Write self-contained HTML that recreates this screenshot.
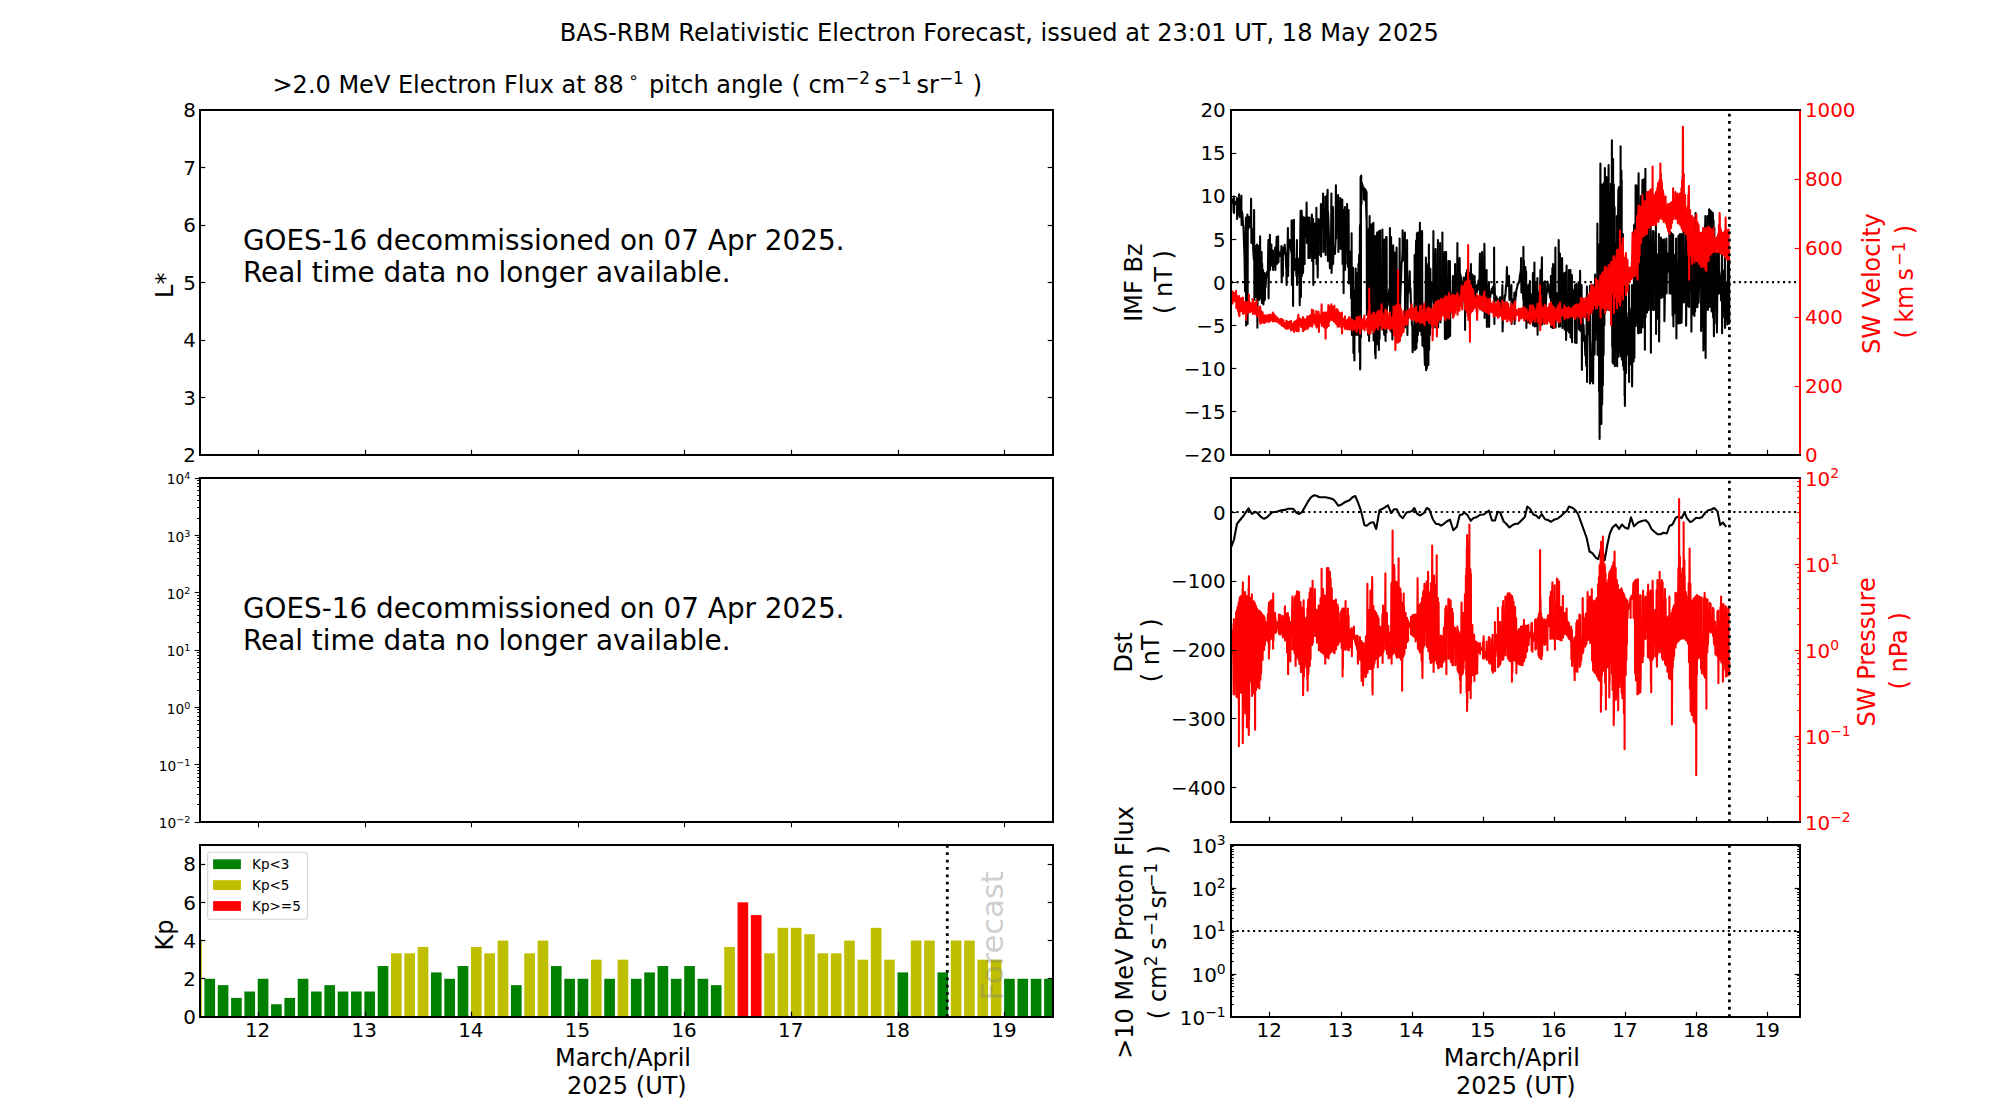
<!DOCTYPE html>
<html lang="en"><head><meta charset="utf-8"><title>BAS-RBM Relativistic Electron Forecast</title>
<style>html,body{margin:0;padding:0;background:#fff;}body{width:2000px;height:1100px;overflow:hidden;}svg{display:block;}text{font-family:'DejaVu Sans','Liberation Sans',sans-serif;}</style>
</head><body>
<svg width="2000" height="1100" viewBox="0 0 2000 1100">
<rect x="0" y="0" width="2000" height="1100" fill="#fff"/>
<text x="999.3" y="40.6" font-size="24.08" text-anchor="middle" fill="#000">BAS-RBM Relativistic Electron Forecast, issued at 23:01 UT, 18 May 2025</text>
<text x="272.5" y="92.9" font-size="24" text-anchor="start" fill="#000">&gt;2.0 MeV Electron Flux at 88</text>
<text x="633.4" y="83.4" font-size="16.8" text-anchor="middle" fill="#000">&#8728;</text>
<text x="649" y="92.9" font-size="24" text-anchor="start" fill="#000">pitch angle</text>
<text x="796.3" y="92.9" font-size="24" text-anchor="middle" fill="#000">(</text>
<text x="808.6" y="92.9" font-size="24" text-anchor="start">cm<tspan font-size="16.8" dy="-8.71" dx="0">&#8722;2</tspan></text>
<text x="874.4" y="92.9" font-size="24" text-anchor="start">s<tspan font-size="16.8" dy="-8.71" dx="0">&#8722;1</tspan></text>
<text x="916.5" y="92.9" font-size="24" text-anchor="start">sr<tspan font-size="16.8" dy="-8.71" dx="0">&#8722;1</tspan></text>
<text x="977.4" y="92.9" font-size="24" text-anchor="middle" fill="#000">)</text>
<line x1="258.5" y1="455" x2="258.5" y2="449.7" stroke="#000" stroke-width="1.2"/>
<line x1="365.5" y1="455" x2="365.5" y2="449.7" stroke="#000" stroke-width="1.2"/>
<line x1="471.5" y1="455" x2="471.5" y2="449.7" stroke="#000" stroke-width="1.2"/>
<line x1="578.5" y1="455" x2="578.5" y2="449.7" stroke="#000" stroke-width="1.2"/>
<line x1="684.5" y1="455" x2="684.5" y2="449.7" stroke="#000" stroke-width="1.2"/>
<line x1="791.5" y1="455" x2="791.5" y2="449.7" stroke="#000" stroke-width="1.2"/>
<line x1="898.5" y1="455" x2="898.5" y2="449.7" stroke="#000" stroke-width="1.2"/>
<line x1="1004.5" y1="455" x2="1004.5" y2="449.7" stroke="#000" stroke-width="1.2"/>
<text x="196" y="462.2" font-size="19.9" text-anchor="end" fill="#000">2</text>
<line x1="200" y1="397.5" x2="205.3" y2="397.5" stroke="#000" stroke-width="1.2"/>
<line x1="1053" y1="397.5" x2="1047.7" y2="397.5" stroke="#000" stroke-width="1.2"/>
<text x="196" y="404.7" font-size="19.9" text-anchor="end" fill="#000">3</text>
<line x1="200" y1="340.5" x2="205.3" y2="340.5" stroke="#000" stroke-width="1.2"/>
<line x1="1053" y1="340.5" x2="1047.7" y2="340.5" stroke="#000" stroke-width="1.2"/>
<text x="196" y="347.2" font-size="19.9" text-anchor="end" fill="#000">4</text>
<line x1="200" y1="282.5" x2="205.3" y2="282.5" stroke="#000" stroke-width="1.2"/>
<line x1="1053" y1="282.5" x2="1047.7" y2="282.5" stroke="#000" stroke-width="1.2"/>
<text x="196" y="289.7" font-size="19.9" text-anchor="end" fill="#000">5</text>
<line x1="200" y1="225.5" x2="205.3" y2="225.5" stroke="#000" stroke-width="1.2"/>
<line x1="1053" y1="225.5" x2="1047.7" y2="225.5" stroke="#000" stroke-width="1.2"/>
<text x="196" y="232.2" font-size="19.9" text-anchor="end" fill="#000">6</text>
<line x1="200" y1="167.5" x2="205.3" y2="167.5" stroke="#000" stroke-width="1.2"/>
<line x1="1053" y1="167.5" x2="1047.7" y2="167.5" stroke="#000" stroke-width="1.2"/>
<text x="196" y="174.7" font-size="19.9" text-anchor="end" fill="#000">7</text>
<text x="196" y="117.2" font-size="19.9" text-anchor="end" fill="#000">8</text>
<rect x="200" y="110" width="853" height="345" fill="none" stroke="#000" stroke-width="2.0"/>
<text transform="translate(172.9,297.9) rotate(-90)" font-size="24" text-anchor="start">L*</text>
<text x="243" y="249.6" font-size="27.83" text-anchor="start" fill="#000">GOES-16 decommissioned on 07 Apr 2025.</text>
<text x="243" y="281.6" font-size="27.83" text-anchor="start" fill="#000">Real time data no longer available.</text>
<line x1="258.5" y1="822" x2="258.5" y2="827.3" stroke="#000" stroke-width="1.1"/>
<line x1="365.5" y1="822" x2="365.5" y2="827.3" stroke="#000" stroke-width="1.1"/>
<line x1="471.5" y1="822" x2="471.5" y2="827.3" stroke="#000" stroke-width="1.1"/>
<line x1="578.5" y1="822" x2="578.5" y2="827.3" stroke="#000" stroke-width="1.1"/>
<line x1="684.5" y1="822" x2="684.5" y2="827.3" stroke="#000" stroke-width="1.1"/>
<line x1="791.5" y1="822" x2="791.5" y2="827.3" stroke="#000" stroke-width="1.1"/>
<line x1="898.5" y1="822" x2="898.5" y2="827.3" stroke="#000" stroke-width="1.1"/>
<line x1="1004.5" y1="822" x2="1004.5" y2="827.3" stroke="#000" stroke-width="1.1"/>
<line x1="200" y1="822.5" x2="194.7" y2="822.5" stroke="#000" stroke-width="1.1"/>
<text x="190.3" y="828.3" font-size="13.7" text-anchor="end" fill="#000">10<tspan font-size="9.59" dy="-4.97">&#8722;2</tspan></text>
<line x1="200" y1="804.5" x2="197.2" y2="804.5" stroke="#000" stroke-width="1"/>
<line x1="200" y1="794.5" x2="197.2" y2="794.5" stroke="#000" stroke-width="1"/>
<line x1="200" y1="787.5" x2="197.2" y2="787.5" stroke="#000" stroke-width="1"/>
<line x1="200" y1="781.5" x2="197.2" y2="781.5" stroke="#000" stroke-width="1"/>
<line x1="200" y1="777.5" x2="197.2" y2="777.5" stroke="#000" stroke-width="1"/>
<line x1="200" y1="773.5" x2="197.2" y2="773.5" stroke="#000" stroke-width="1"/>
<line x1="200" y1="770.5" x2="197.2" y2="770.5" stroke="#000" stroke-width="1"/>
<line x1="200" y1="767.5" x2="197.2" y2="767.5" stroke="#000" stroke-width="1"/>
<line x1="200" y1="764.5" x2="194.7" y2="764.5" stroke="#000" stroke-width="1.1"/>
<text x="190.3" y="770.97" font-size="13.7" text-anchor="end" fill="#000">10<tspan font-size="9.59" dy="-4.97">&#8722;1</tspan></text>
<line x1="200" y1="747.5" x2="197.2" y2="747.5" stroke="#000" stroke-width="1"/>
<line x1="200" y1="737.5" x2="197.2" y2="737.5" stroke="#000" stroke-width="1"/>
<line x1="200" y1="730.5" x2="197.2" y2="730.5" stroke="#000" stroke-width="1"/>
<line x1="200" y1="724.5" x2="197.2" y2="724.5" stroke="#000" stroke-width="1"/>
<line x1="200" y1="720.5" x2="197.2" y2="720.5" stroke="#000" stroke-width="1"/>
<line x1="200" y1="716.5" x2="197.2" y2="716.5" stroke="#000" stroke-width="1"/>
<line x1="200" y1="712.5" x2="197.2" y2="712.5" stroke="#000" stroke-width="1"/>
<line x1="200" y1="709.5" x2="197.2" y2="709.5" stroke="#000" stroke-width="1"/>
<line x1="200" y1="707.5" x2="194.7" y2="707.5" stroke="#000" stroke-width="1.1"/>
<text x="190.3" y="713.63" font-size="13.7" text-anchor="end" fill="#000">10<tspan font-size="9.59" dy="-4.97">0</tspan></text>
<line x1="200" y1="690.5" x2="197.2" y2="690.5" stroke="#000" stroke-width="1"/>
<line x1="200" y1="679.5" x2="197.2" y2="679.5" stroke="#000" stroke-width="1"/>
<line x1="200" y1="672.5" x2="197.2" y2="672.5" stroke="#000" stroke-width="1"/>
<line x1="200" y1="667.5" x2="197.2" y2="667.5" stroke="#000" stroke-width="1"/>
<line x1="200" y1="662.5" x2="197.2" y2="662.5" stroke="#000" stroke-width="1"/>
<line x1="200" y1="658.5" x2="197.2" y2="658.5" stroke="#000" stroke-width="1"/>
<line x1="200" y1="655.5" x2="197.2" y2="655.5" stroke="#000" stroke-width="1"/>
<line x1="200" y1="652.5" x2="197.2" y2="652.5" stroke="#000" stroke-width="1"/>
<line x1="200" y1="650.5" x2="194.7" y2="650.5" stroke="#000" stroke-width="1.1"/>
<text x="190.3" y="656.3" font-size="13.7" text-anchor="end" fill="#000">10<tspan font-size="9.59" dy="-4.97">1</tspan></text>
<line x1="200" y1="632.5" x2="197.2" y2="632.5" stroke="#000" stroke-width="1"/>
<line x1="200" y1="622.5" x2="197.2" y2="622.5" stroke="#000" stroke-width="1"/>
<line x1="200" y1="615.5" x2="197.2" y2="615.5" stroke="#000" stroke-width="1"/>
<line x1="200" y1="609.5" x2="197.2" y2="609.5" stroke="#000" stroke-width="1"/>
<line x1="200" y1="605.5" x2="197.2" y2="605.5" stroke="#000" stroke-width="1"/>
<line x1="200" y1="601.5" x2="197.2" y2="601.5" stroke="#000" stroke-width="1"/>
<line x1="200" y1="598.5" x2="197.2" y2="598.5" stroke="#000" stroke-width="1"/>
<line x1="200" y1="595.5" x2="197.2" y2="595.5" stroke="#000" stroke-width="1"/>
<line x1="200" y1="592.5" x2="194.7" y2="592.5" stroke="#000" stroke-width="1.1"/>
<text x="190.3" y="598.97" font-size="13.7" text-anchor="end" fill="#000">10<tspan font-size="9.59" dy="-4.97">2</tspan></text>
<line x1="200" y1="575.5" x2="197.2" y2="575.5" stroke="#000" stroke-width="1"/>
<line x1="200" y1="565.5" x2="197.2" y2="565.5" stroke="#000" stroke-width="1"/>
<line x1="200" y1="558.5" x2="197.2" y2="558.5" stroke="#000" stroke-width="1"/>
<line x1="200" y1="552.5" x2="197.2" y2="552.5" stroke="#000" stroke-width="1"/>
<line x1="200" y1="548.5" x2="197.2" y2="548.5" stroke="#000" stroke-width="1"/>
<line x1="200" y1="544.5" x2="197.2" y2="544.5" stroke="#000" stroke-width="1"/>
<line x1="200" y1="540.5" x2="197.2" y2="540.5" stroke="#000" stroke-width="1"/>
<line x1="200" y1="537.5" x2="197.2" y2="537.5" stroke="#000" stroke-width="1"/>
<line x1="200" y1="535.5" x2="194.7" y2="535.5" stroke="#000" stroke-width="1.1"/>
<text x="190.3" y="541.63" font-size="13.7" text-anchor="end" fill="#000">10<tspan font-size="9.59" dy="-4.97">3</tspan></text>
<line x1="200" y1="518.5" x2="197.2" y2="518.5" stroke="#000" stroke-width="1"/>
<line x1="200" y1="507.5" x2="197.2" y2="507.5" stroke="#000" stroke-width="1"/>
<line x1="200" y1="500.5" x2="197.2" y2="500.5" stroke="#000" stroke-width="1"/>
<line x1="200" y1="495.5" x2="197.2" y2="495.5" stroke="#000" stroke-width="1"/>
<line x1="200" y1="490.5" x2="197.2" y2="490.5" stroke="#000" stroke-width="1"/>
<line x1="200" y1="486.5" x2="197.2" y2="486.5" stroke="#000" stroke-width="1"/>
<line x1="200" y1="483.5" x2="197.2" y2="483.5" stroke="#000" stroke-width="1"/>
<line x1="200" y1="480.5" x2="197.2" y2="480.5" stroke="#000" stroke-width="1"/>
<line x1="200" y1="478.5" x2="194.7" y2="478.5" stroke="#000" stroke-width="1.1"/>
<text x="190.3" y="484.3" font-size="13.7" text-anchor="end" fill="#000">10<tspan font-size="9.59" dy="-4.97">4</tspan></text>
<rect x="200" y="478" width="853" height="344" fill="none" stroke="#000" stroke-width="2.0"/>
<text x="243" y="617.6" font-size="27.83" text-anchor="start" fill="#000">GOES-16 decommissioned on 07 Apr 2025.</text>
<text x="243" y="649.6" font-size="27.83" text-anchor="start" fill="#000">Real time data no longer available.</text>
<clipPath id="cpk"><rect x="200" y="845" width="853" height="172"/></clipPath>
<g clip-path="url(#cpk)" shape-rendering="auto">
<rect x="191.09" y="940.56" width="10.66" height="76.44" fill="#bfbf00"/>
<rect x="204.42" y="978.78" width="10.66" height="38.22" fill="#008000"/>
<rect x="217.75" y="985.15" width="10.66" height="31.85" fill="#008000"/>
<rect x="231.07" y="997.89" width="10.66" height="19.11" fill="#008000"/>
<rect x="244.4" y="991.52" width="10.66" height="25.48" fill="#008000"/>
<rect x="257.73" y="978.78" width="10.66" height="38.22" fill="#008000"/>
<rect x="271.06" y="1004.26" width="10.66" height="12.74" fill="#008000"/>
<rect x="284.39" y="997.89" width="10.66" height="19.11" fill="#008000"/>
<rect x="297.71" y="978.78" width="10.66" height="38.22" fill="#008000"/>
<rect x="311.04" y="991.52" width="10.66" height="25.48" fill="#008000"/>
<rect x="324.37" y="985.15" width="10.66" height="31.85" fill="#008000"/>
<rect x="337.7" y="991.52" width="10.66" height="25.48" fill="#008000"/>
<rect x="351.03" y="991.52" width="10.66" height="25.48" fill="#008000"/>
<rect x="364.36" y="991.52" width="10.66" height="25.48" fill="#008000"/>
<rect x="377.68" y="966.04" width="10.66" height="50.96" fill="#008000"/>
<rect x="391.01" y="953.3" width="10.66" height="63.7" fill="#bfbf00"/>
<rect x="404.34" y="953.3" width="10.66" height="63.7" fill="#bfbf00"/>
<rect x="417.67" y="946.93" width="10.66" height="70.07" fill="#bfbf00"/>
<rect x="431" y="972.41" width="10.66" height="44.59" fill="#008000"/>
<rect x="444.32" y="978.78" width="10.66" height="38.22" fill="#008000"/>
<rect x="457.65" y="966.04" width="10.66" height="50.96" fill="#008000"/>
<rect x="470.98" y="946.93" width="10.66" height="70.07" fill="#bfbf00"/>
<rect x="484.31" y="953.3" width="10.66" height="63.7" fill="#bfbf00"/>
<rect x="497.64" y="940.56" width="10.66" height="76.44" fill="#bfbf00"/>
<rect x="510.96" y="985.15" width="10.66" height="31.85" fill="#008000"/>
<rect x="524.29" y="953.3" width="10.66" height="63.7" fill="#bfbf00"/>
<rect x="537.62" y="940.56" width="10.66" height="76.44" fill="#bfbf00"/>
<rect x="550.95" y="966.04" width="10.66" height="50.96" fill="#008000"/>
<rect x="564.28" y="978.78" width="10.66" height="38.22" fill="#008000"/>
<rect x="577.61" y="978.78" width="10.66" height="38.22" fill="#008000"/>
<rect x="590.93" y="959.67" width="10.66" height="57.33" fill="#bfbf00"/>
<rect x="604.26" y="978.78" width="10.66" height="38.22" fill="#008000"/>
<rect x="617.59" y="959.67" width="10.66" height="57.33" fill="#bfbf00"/>
<rect x="630.92" y="978.78" width="10.66" height="38.22" fill="#008000"/>
<rect x="644.25" y="972.41" width="10.66" height="44.59" fill="#008000"/>
<rect x="657.57" y="966.04" width="10.66" height="50.96" fill="#008000"/>
<rect x="670.9" y="978.78" width="10.66" height="38.22" fill="#008000"/>
<rect x="684.23" y="966.04" width="10.66" height="50.96" fill="#008000"/>
<rect x="697.56" y="978.78" width="10.66" height="38.22" fill="#008000"/>
<rect x="710.89" y="985.15" width="10.66" height="31.85" fill="#008000"/>
<rect x="724.21" y="946.93" width="10.66" height="70.07" fill="#bfbf00"/>
<rect x="737.54" y="902.33" width="10.66" height="114.67" fill="#ff0000"/>
<rect x="750.87" y="915.07" width="10.66" height="101.93" fill="#ff0000"/>
<rect x="764.2" y="953.3" width="10.66" height="63.7" fill="#bfbf00"/>
<rect x="777.53" y="927.81" width="10.66" height="89.19" fill="#bfbf00"/>
<rect x="790.86" y="927.81" width="10.66" height="89.19" fill="#bfbf00"/>
<rect x="804.18" y="934.19" width="10.66" height="82.81" fill="#bfbf00"/>
<rect x="817.51" y="953.3" width="10.66" height="63.7" fill="#bfbf00"/>
<rect x="830.84" y="953.3" width="10.66" height="63.7" fill="#bfbf00"/>
<rect x="844.17" y="940.56" width="10.66" height="76.44" fill="#bfbf00"/>
<rect x="857.5" y="959.67" width="10.66" height="57.33" fill="#bfbf00"/>
<rect x="870.82" y="927.81" width="10.66" height="89.19" fill="#bfbf00"/>
<rect x="884.15" y="959.67" width="10.66" height="57.33" fill="#bfbf00"/>
<rect x="897.48" y="972.41" width="10.66" height="44.59" fill="#008000"/>
<rect x="910.81" y="940.56" width="10.66" height="76.44" fill="#bfbf00"/>
<rect x="924.14" y="940.56" width="10.66" height="76.44" fill="#bfbf00"/>
<rect x="937.46" y="972.41" width="10.66" height="44.59" fill="#008000"/>
<rect x="950.79" y="940.56" width="10.66" height="76.44" fill="#bfbf00"/>
<rect x="964.12" y="940.56" width="10.66" height="76.44" fill="#bfbf00"/>
<rect x="977.45" y="959.67" width="10.66" height="57.33" fill="#bfbf00"/>
<rect x="990.78" y="959.67" width="10.66" height="57.33" fill="#bfbf00"/>
<rect x="1004.11" y="978.78" width="10.66" height="38.22" fill="#008000"/>
<rect x="1017.43" y="978.78" width="10.66" height="38.22" fill="#008000"/>
<rect x="1030.76" y="978.78" width="10.66" height="38.22" fill="#008000"/>
<rect x="1044.09" y="978.78" width="10.66" height="38.22" fill="#008000"/>
</g>
<line x1="947.3" y1="1017" x2="947.3" y2="845" stroke="#000" stroke-width="2.78" stroke-dasharray="2.78 4.58"/>
<text transform="translate(1002.7,1000.5) rotate(-90)" font-size="30.56" text-anchor="start" fill="#808080" fill-opacity="0.4">Forecast</text>
<line x1="258.5" y1="1017" x2="258.5" y2="1011.7" stroke="#000" stroke-width="1.2"/>
<line x1="365.5" y1="1017" x2="365.5" y2="1011.7" stroke="#000" stroke-width="1.2"/>
<line x1="471.5" y1="1017" x2="471.5" y2="1011.7" stroke="#000" stroke-width="1.2"/>
<line x1="578.5" y1="1017" x2="578.5" y2="1011.7" stroke="#000" stroke-width="1.2"/>
<line x1="684.5" y1="1017" x2="684.5" y2="1011.7" stroke="#000" stroke-width="1.2"/>
<line x1="791.5" y1="1017" x2="791.5" y2="1011.7" stroke="#000" stroke-width="1.2"/>
<line x1="898.5" y1="1017" x2="898.5" y2="1011.7" stroke="#000" stroke-width="1.2"/>
<line x1="1004.5" y1="1017" x2="1004.5" y2="1011.7" stroke="#000" stroke-width="1.2"/>
<text x="196" y="1024.2" font-size="19.9" text-anchor="end" fill="#000">0</text>
<line x1="200" y1="978.5" x2="205.3" y2="978.5" stroke="#000" stroke-width="1.2"/>
<line x1="1053" y1="978.5" x2="1047.7" y2="978.5" stroke="#000" stroke-width="1.2"/>
<text x="196" y="985.98" font-size="19.9" text-anchor="end" fill="#000">2</text>
<line x1="200" y1="940.5" x2="205.3" y2="940.5" stroke="#000" stroke-width="1.2"/>
<line x1="1053" y1="940.5" x2="1047.7" y2="940.5" stroke="#000" stroke-width="1.2"/>
<text x="196" y="947.76" font-size="19.9" text-anchor="end" fill="#000">4</text>
<line x1="200" y1="902.5" x2="205.3" y2="902.5" stroke="#000" stroke-width="1.2"/>
<line x1="1053" y1="902.5" x2="1047.7" y2="902.5" stroke="#000" stroke-width="1.2"/>
<text x="196" y="909.53" font-size="19.9" text-anchor="end" fill="#000">6</text>
<line x1="200" y1="864.5" x2="205.3" y2="864.5" stroke="#000" stroke-width="1.2"/>
<line x1="1053" y1="864.5" x2="1047.7" y2="864.5" stroke="#000" stroke-width="1.2"/>
<text x="196" y="871.31" font-size="19.9" text-anchor="end" fill="#000">8</text>
<text x="257.63" y="1037.1" font-size="19.9" text-anchor="middle" fill="#000">12</text>
<text x="364.26" y="1037.1" font-size="19.9" text-anchor="middle" fill="#000">13</text>
<text x="470.88" y="1037.1" font-size="19.9" text-anchor="middle" fill="#000">14</text>
<text x="577.51" y="1037.1" font-size="19.9" text-anchor="middle" fill="#000">15</text>
<text x="684.13" y="1037.1" font-size="19.9" text-anchor="middle" fill="#000">16</text>
<text x="790.76" y="1037.1" font-size="19.9" text-anchor="middle" fill="#000">17</text>
<text x="897.38" y="1037.1" font-size="19.9" text-anchor="middle" fill="#000">18</text>
<text x="1004.01" y="1037.1" font-size="19.9" text-anchor="middle" fill="#000">19</text>
<rect x="200" y="845" width="853" height="172" fill="none" stroke="#000" stroke-width="2.0"/>
<rect x="207.6" y="852.3" width="99.8" height="67" rx="2.8" ry="2.8" fill="#fff" fill-opacity="0.8" stroke="#ccc" stroke-opacity="0.8" stroke-width="1.1"/>
<rect x="213.1" y="859.3" width="27.8" height="9.8" fill="#008000"/>
<text x="252" y="869" font-size="13.55" text-anchor="start" fill="#000">Kp&lt;3</text>
<rect x="213.1" y="880.2" width="27.8" height="9.8" fill="#bfbf00"/>
<text x="252" y="889.9" font-size="13.55" text-anchor="start" fill="#000">Kp&lt;5</text>
<rect x="213.1" y="901.1" width="27.8" height="9.8" fill="#ff0000"/>
<text x="252" y="910.8" font-size="13.55" text-anchor="start" fill="#000">Kp&gt;=5</text>
<text transform="translate(172.9,950.4) rotate(-90)" font-size="24" text-anchor="start">Kp</text>
<text x="623" y="1066" font-size="24" text-anchor="middle" fill="#000">March/April</text>
<text x="626.9" y="1093.5" font-size="24" text-anchor="middle" fill="#000">2025 (UT)</text>
<clipPath id="cr1"><rect x="1231" y="110" width="569" height="345"/></clipPath>
<line x1="1231" y1="282.1" x2="1800" y2="282.1" stroke="#000" stroke-width="2.08" stroke-dasharray="2.08 3.44"/>
<g clip-path="url(#cr1)">
<path d="M1231.3 198.9L1231.4 212.2L1231.7 201.1L1232.2 199.4L1232.8 201.9L1233.3 201.3L1233.7 202.9L1233.9 196.5L1234.1 213.0L1234.2 202.3L1234.7 204.4L1235.2 201.8L1235.8 204.0L1236.3 202.2L1236.8 205.3L1236.9 198.0L1237.1 219.0L1237.3 206.2L1237.8 211.3L1238.3 209.4L1238.7 213.9L1239.1 194.2L1239.3 215.0L1239.7 217.0L1240.3 213.7L1240.8 212.9L1241.4 195.8L1241.4 208.7L1241.6 225.0L1241.8 211.4L1242.4 214.5L1243.0 224.6L1243.4 226.0L1244.0 243.4L1244.5 256.6L1245.1 291.4L1245.5 286.7L1245.9 217.5L1246.1 292.3L1246.1 325.5L1246.7 245.6L1247.3 235.1L1247.4 214.5L1247.6 324.0L1247.8 216.3L1248.4 228.7L1248.9 217.0L1249.3 226.2L1249.9 222.2L1250.3 226.9L1250.8 224.9L1251.1 198.8L1251.4 243.0L1251.4 226.8L1251.9 229.6L1252.4 237.8L1252.8 236.2L1253.3 251.1L1253.9 260.0L1254.1 210.0L1254.3 268.6L1254.4 300.0L1254.7 267.4L1255.3 276.5L1255.6 246.0L1255.7 274.7L1255.9 297.0L1256.2 274.7L1256.7 267.6L1257.1 244.5L1257.2 280.7L1257.4 327.8L1257.7 258.7L1258.4 259.1L1258.6 246.0L1258.8 247.4L1258.9 300.0L1259.4 267.0L1259.9 271.4L1260.1 236.2L1260.4 298.5L1260.5 281.0L1261.0 269.2L1261.5 265.0L1261.6 252.0L1261.9 303.0L1262.1 263.2L1262.5 278.4L1263.0 288.8L1263.1 270.0L1263.4 304.5L1263.6 301.9L1264.2 298.5L1264.5 295.6L1264.6 273.0L1264.9 300.0L1265.0 288.2L1265.5 287.4L1266.1 278.0L1266.6 274.4L1267.2 271.7L1267.8 274.8L1268.4 240.0L1268.4 270.1L1268.6 298.5L1268.8 273.3L1269.2 265.8L1269.7 266.8L1269.9 234.8L1270.1 270.0L1270.2 254.9L1270.7 259.2L1271.2 253.3L1271.4 244.5L1271.5 255.9L1271.6 265.5L1271.9 253.4L1272.5 255.4L1272.9 250.5L1273.1 256.7L1273.1 270.0L1273.5 258.4L1273.9 258.2L1274.5 261.3L1275.1 261.7L1275.1 247.5L1275.4 270.0L1275.5 263.1L1276.2 257.2L1276.6 237.0L1276.7 256.4L1276.9 264.0L1277.2 253.8L1277.6 256.7L1278.1 254.1L1278.1 236.2L1278.4 262.5L1278.7 255.8L1279.1 252.0L1279.6 254.6L1280.1 253.4L1280.5 256.1L1281.1 256.3L1281.4 246.0L1281.5 263.6L1281.7 282.0L1282.0 255.4L1282.5 259.0L1282.6 247.5L1282.9 276.0L1282.9 253.6L1283.3 254.3L1283.7 249.8L1284.2 249.1L1284.7 244.7L1285.2 252.1L1285.7 256.1L1286.0 264.0L1286.4 269.9L1286.6 285.0L1286.9 270.2L1287.4 257.3L1287.9 228.0L1288.0 255.5L1288.1 276.0L1288.5 247.6L1288.8 248.9L1289.4 239.8L1290.0 246.8L1290.5 244.5L1291.0 250.1L1291.5 252.8L1291.6 220.5L1291.9 285.0L1292.0 259.8L1292.6 257.8L1292.8 220.5L1293.1 306.0L1293.1 277.0L1293.7 259.9L1293.9 219.8L1294.1 270.0L1294.2 260.8L1294.7 259.1L1295.3 264.9L1295.8 262.1L1296.4 276.0L1296.9 240.0L1297.0 275.9L1297.1 285.0L1297.4 274.7L1297.8 265.9L1298.4 263.6L1299.0 258.6L1299.5 261.6L1299.7 305.2L1300.1 245.4L1300.6 210.8L1300.8 242.3L1300.9 297.0L1301.3 225.4L1301.7 210.8L1301.7 230.1L1301.9 276.0L1302.4 216.2L1302.9 217.5L1302.9 220.7L1303.1 273.0L1303.5 220.8L1304.1 227.8L1304.4 217.5L1304.6 264.0L1304.6 225.9L1305.0 233.5L1305.4 232.2L1305.8 236.4L1306.4 222.0L1306.6 202.5L1306.9 243.0L1306.9 219.9L1307.5 221.7L1308.0 222.6L1308.1 217.5L1308.3 219.7L1308.4 258.0L1308.8 223.7L1309.3 223.3L1309.6 217.5L1309.7 229.9L1309.9 258.0L1310.1 227.6L1310.6 232.1L1310.9 224.9L1311.3 230.3L1311.9 221.4L1311.9 214.5L1312.1 261.0L1312.3 225.4L1312.9 219.3L1313.1 219.0L1313.3 285.0L1313.5 225.1L1314.1 231.0L1314.7 246.1L1314.9 223.5L1315.1 258.0L1315.2 250.4L1315.8 257.4L1316.3 246.3L1316.4 207.8L1316.6 264.0L1317.0 244.8L1317.3 240.6L1317.7 277.5L1317.9 246.4L1318.5 238.4L1318.6 219.0L1318.9 255.0L1318.9 244.2L1319.3 237.5L1319.8 234.2L1320.2 225.3L1320.8 219.6L1320.9 204.0L1321.1 256.5L1321.2 208.3L1321.7 211.8L1322.1 209.5L1322.7 225.6L1323.1 193.5L1323.3 227.0L1323.4 252.0L1323.9 240.9L1324.5 246.0L1325.1 241.3L1325.4 196.5L1325.6 255.0L1325.7 230.5L1326.2 228.6L1326.5 215.6L1327.0 211.5L1327.3 195.5L1327.6 189.8L1327.9 261.0L1327.9 211.0L1328.4 219.5L1328.8 232.6L1329.4 246.5L1329.9 268.3L1330.5 255.2L1330.9 258.5L1331.4 193.5L1331.6 243.3L1331.6 273.0L1332.0 254.2L1332.4 245.9L1332.8 253.7L1332.9 207.0L1333.1 264.0L1333.5 247.5L1334.0 250.1L1334.6 249.2L1335.0 253.9L1335.5 241.5L1335.9 185.2L1336.1 238.8L1336.5 227.3L1337.1 226.0L1337.5 216.8L1337.9 215.8L1338.1 195.0L1338.3 205.1L1338.4 252.0L1338.7 205.4L1339.3 204.5L1339.9 215.5L1340.4 198.0L1340.4 213.6L1340.6 249.0L1340.8 223.9L1341.4 218.9L1341.9 218.7L1342.3 199.5L1342.6 264.0L1342.6 213.2L1343.1 222.4L1343.4 210.0L1343.5 214.3L1343.6 293.2L1343.9 215.0L1344.5 216.4L1344.9 207.0L1344.9 227.3L1345.1 270.0L1345.3 226.1L1345.9 235.3L1346.5 235.5L1346.8 248.4L1347.1 204.0L1347.4 264.0L1347.4 251.9L1348.0 266.9L1348.4 259.0L1348.6 210.0L1348.9 283.5L1349.0 262.5L1349.5 251.3L1350.0 261.2L1350.6 268.6L1351.1 298.3L1351.5 298.7L1351.6 233.2L1351.9 335.0L1351.9 326.4L1352.4 308.8L1352.9 308.0L1353.1 267.8L1353.4 353.0L1353.5 289.9L1354.0 290.4L1354.4 360.5L1354.6 292.7L1354.9 304.3L1355.5 298.2L1355.7 268.5L1355.9 335.0L1356.1 308.5L1356.5 314.5L1357.0 323.8L1357.5 324.9L1357.6 273.0L1357.9 335.0L1358.1 319.0L1358.4 264.0L1358.6 335.0L1358.7 306.3L1359.1 255.0L1359.2 314.3L1359.4 352.2L1359.6 294.9L1359.9 230.0L1360.0 225.0L1360.1 280.7L1360.1 369.5L1360.3 365.2L1360.5 231.3L1360.6 177.0L1360.9 337.5L1361.0 201.5L1361.2 175.5L1361.5 204.0L1361.5 182.3L1362.1 184.2L1362.6 185.4L1363.1 189.8L1363.6 187.5L1363.7 191.1L1363.9 199.5L1364.2 192.4L1364.6 191.2L1365.0 193.4L1365.1 189.0L1365.4 201.0L1365.5 192.8L1365.9 190.2L1365.9 196.2L1366.1 206.0L1366.5 218.9L1366.6 192.0L1366.9 315.0L1366.9 253.8L1367.3 258.4L1367.8 280.8L1367.8 230.3L1368.1 335.0L1368.1 281.5L1368.8 300.9L1368.9 228.6L1369.1 341.0L1369.3 295.0L1369.6 216.0L1369.8 304.1L1369.9 332.6L1370.1 224.6L1370.2 297.7L1370.3 327.5L1370.8 314.7L1371.1 225.0L1371.3 306.7L1371.4 327.5L1371.8 312.8L1371.9 224.2L1372.1 327.5L1372.3 301.0L1372.6 308.9L1373.2 290.4L1373.4 222.8L1373.6 340.5L1373.7 309.8L1374.2 302.5L1374.8 321.4L1374.9 237.0L1375.1 354.0L1375.3 236.1L1375.4 322.6L1375.6 358.2L1375.9 324.7L1376.4 320.0L1376.8 324.6L1377.1 232.5L1377.3 323.2L1377.4 344.2L1377.8 338.1L1378.3 307.7L1378.6 231.5L1378.7 318.5L1378.9 350.0L1379.1 295.6L1379.4 231.0L1379.6 293.8L1379.6 338.8L1379.9 280.0L1380.1 230.6L1380.3 284.7L1380.4 327.5L1381.0 279.4L1381.4 293.6L1381.8 284.6L1382.3 306.3L1382.4 229.5L1382.6 329.7L1382.8 296.8L1383.2 313.5L1383.6 315.4L1383.9 240.0L1384.1 334.1L1384.2 239.6L1384.3 326.6L1384.4 335.0L1384.8 317.6L1385.2 326.6L1385.6 341.0L1385.6 321.2L1386.0 321.2L1386.1 237.0L1386.4 332.6L1386.4 306.9L1386.6 237.0L1386.8 327.5L1386.9 309.1L1387.2 295.4L1387.7 305.8L1388.2 294.6L1388.6 296.2L1389.2 289.4L1389.7 302.4L1389.9 228.0L1390.1 292.0L1390.1 330.0L1390.5 301.8L1390.9 301.5L1391.1 237.0L1391.3 332.0L1391.4 311.0L1392.0 301.2L1392.4 339.5L1392.5 318.9L1393.1 287.1L1393.2 245.4L1393.4 327.5L1393.7 279.3L1394.3 254.1L1394.4 255.0L1394.6 327.5L1394.7 262.6L1395.1 258.9L1395.1 252.5L1395.4 327.5L1395.6 267.9L1396.0 270.5L1396.5 281.6L1396.6 247.5L1396.9 327.5L1396.9 281.5L1397.4 293.0L1398.0 297.6L1398.3 308.2L1398.8 311.4L1399.3 317.8L1399.6 238.5L1399.9 296.2L1399.9 327.5L1400.2 299.4L1400.7 286.7L1401.1 278.7L1401.6 262.8L1402.1 261.4L1402.6 249.2L1402.6 230.2L1403.0 254.4L1403.5 249.5L1404.1 260.5L1404.6 258.7L1404.9 232.5L1405.1 327.5L1405.2 276.1L1405.7 271.3L1406.3 294.7L1406.9 292.6L1407.1 240.0L1407.3 295.8L1407.4 335.0L1407.9 280.1L1408.4 292.9L1408.8 281.3L1409.3 281.8L1409.7 271.4L1410.1 287.9L1410.5 288.7L1410.9 302.1L1411.5 308.8L1411.9 324.2L1412.4 326.5L1412.6 352.2L1413.0 345.2L1413.6 336.9L1414.0 337.4L1414.6 315.1L1414.6 255.0L1414.9 350.0L1415.2 308.5L1415.7 273.8L1416.1 240.5L1416.3 282.4L1416.4 348.5L1416.9 233.2L1416.9 273.9L1417.1 341.8L1417.4 283.8L1417.6 232.9L1417.8 273.2L1417.9 335.0L1418.3 283.5L1418.4 232.6L1418.6 327.5L1418.8 280.2L1419.2 291.1L1419.6 287.5L1419.9 222.8L1419.9 289.6L1420.1 331.2L1420.5 292.1L1421.0 302.5L1421.4 231.3L1421.5 294.1L1421.6 335.0L1422.1 311.1L1422.1 231.0L1422.4 345.5L1422.5 302.4L1423.0 326.8L1423.4 320.1L1423.8 347.2L1424.3 345.2L1424.9 364.9L1425.5 344.0L1425.9 257.5L1425.9 345.5L1426.1 370.2L1426.5 312.7L1426.6 264.0L1426.9 368.5L1427.1 305.8L1427.5 286.4L1428.0 309.3L1428.1 266.0L1428.3 312.8L1428.4 365.0L1428.9 244.5L1428.9 335.0L1429.1 350.0L1429.3 327.2L1429.6 268.0L1429.8 327.9L1429.9 335.0L1430.3 308.6L1430.4 269.0L1430.6 327.5L1430.9 305.8L1431.5 298.0L1431.9 295.3L1432.4 282.9L1432.8 295.3L1433.2 287.8L1433.4 231.0L1433.6 327.5L1433.7 299.1L1434.1 302.9L1434.7 313.8L1435.2 305.6L1435.6 249.0L1435.8 316.3L1435.9 327.5L1436.2 301.6L1436.7 312.2L1437.1 302.8L1437.5 311.1L1437.9 240.0L1437.9 297.4L1438.1 327.5L1438.3 303.1L1438.7 294.4L1439.1 302.8L1439.5 294.0L1440.0 296.8L1440.1 243.0L1440.4 322.5L1440.4 291.8L1440.8 297.5L1441.2 288.3L1441.6 290.9L1442.3 279.4L1442.4 232.5L1442.6 315.0L1442.9 283.6L1443.4 274.0L1443.8 277.9L1444.4 268.4L1444.6 252.0L1444.9 339.0L1444.9 271.5L1445.5 253.8L1446.1 252.0L1446.2 277.1L1446.4 339.0L1446.8 293.9L1447.2 317.5L1447.6 332.7L1448.0 337.6L1448.4 261.0L1448.5 326.7L1448.6 337.5L1449.0 324.0L1449.4 312.5L1449.8 320.2L1449.9 261.0L1450.1 336.0L1450.4 303.9L1451.0 305.9L1451.6 293.4L1452.1 299.5L1452.5 292.2L1452.9 276.0L1453.0 300.9L1453.1 315.0L1453.4 295.0L1453.8 301.7L1454.2 298.4L1454.6 304.1L1455.1 264.0L1455.2 301.1L1455.4 310.5L1455.8 305.0L1456.2 299.8L1456.7 303.5L1457.1 293.5L1457.4 243.0L1457.5 293.6L1457.6 300.0L1458.0 285.4L1458.4 285.2L1458.8 280.0L1459.3 277.2L1459.6 258.0L1459.8 271.4L1459.9 298.5L1460.3 274.3L1460.9 277.0L1461.5 283.1L1462.1 285.5L1462.7 290.6L1463.4 292.5L1463.7 277.5L1463.8 297.0L1463.9 300.0L1464.2 294.6L1464.8 310.3L1464.9 277.5L1465.1 330.0L1465.2 300.6L1465.7 290.9L1466.1 273.0L1466.1 284.3L1466.3 300.0L1466.6 284.8L1467.0 278.4L1467.1 270.0L1467.4 300.0L1467.6 279.3L1468.1 273.0L1468.6 272.6L1469.3 273.0L1469.7 279.1L1470.2 278.4L1470.6 281.1L1470.9 264.0L1471.1 300.0L1471.2 277.9L1471.5 286.6L1472.0 285.8L1472.4 274.5L1472.5 289.9L1472.6 300.0L1472.9 286.4L1473.6 289.5L1474.0 286.0L1474.6 276.0L1474.7 288.9L1474.9 300.0L1475.3 287.8L1475.9 289.9L1476.3 285.9L1476.9 292.1L1477.5 284.2L1478.0 289.8L1478.4 280.6L1478.9 283.7L1479.5 278.3L1479.9 253.5L1480.0 283.6L1480.1 307.5L1480.4 276.5L1481.0 276.8L1481.5 270.1L1482.0 274.3L1482.1 252.0L1482.4 310.5L1482.6 267.1L1483.2 275.3L1483.8 267.8L1484.2 269.3L1484.4 243.8L1484.6 259.9L1484.6 318.0L1485.0 279.7L1485.6 279.1L1486.0 284.7L1486.6 283.1L1486.6 270.0L1486.9 327.0L1487.2 291.0L1487.9 293.5L1488.4 301.3L1488.9 282.0L1489.0 297.3L1489.1 327.0L1489.5 298.5L1489.9 294.3L1490.3 297.0L1490.8 291.2L1491.3 292.8L1491.7 288.9L1492.2 291.1L1492.6 287.4L1493.1 293.4L1493.5 289.3L1494.1 282.5L1494.1 247.5L1494.4 324.0L1494.6 283.6L1495.0 297.2L1495.6 295.8L1496.2 300.3L1496.6 297.3L1497.3 301.4L1497.8 299.2L1498.4 301.8L1499.0 299.6L1499.6 304.5L1500.1 297.4L1500.5 307.6L1501.1 304.4L1501.4 310.2L1501.9 308.2L1502.4 285.0L1502.5 314.5L1502.6 331.5L1503.1 309.7L1503.5 311.4L1503.9 302.2L1504.3 305.0L1504.8 295.6L1505.4 295.8L1505.9 287.6L1506.5 282.7L1506.9 267.0L1507.0 270.4L1507.5 286.0L1508.0 280.8L1508.6 283.2L1509.1 276.0L1509.1 281.1L1509.4 300.0L1509.6 286.0L1510.1 286.3L1510.6 295.4L1511.2 293.4L1511.4 285.0L1511.6 324.0L1511.7 303.1L1512.2 299.0L1512.9 303.7L1513.4 303.5L1513.9 307.1L1514.4 292.5L1514.6 306.4L1514.6 324.0L1515.0 303.5L1515.5 297.0L1515.9 296.3L1516.4 289.6L1517.0 288.4L1517.6 284.3L1518.2 284.1L1518.7 282.1L1519.3 281.5L1519.9 275.3L1520.3 273.7L1520.9 270.1L1521.1 258.0L1521.4 292.5L1521.4 274.1L1521.9 278.4L1522.5 286.3L1522.8 288.8L1523.3 300.0L1523.4 246.8L1523.7 314.7L1523.7 299.6L1523.9 260.9L1524.1 311.7L1524.1 319.0L1524.6 312.5L1525.0 318.7L1525.4 267.0L1525.4 305.1L1525.6 320.1L1525.8 311.5L1526.1 271.5L1526.3 301.8L1526.4 328.0L1526.9 300.0L1527.5 289.9L1527.9 290.4L1528.4 285.0L1528.4 284.7L1528.6 322.4L1529.0 287.3L1529.5 289.5L1529.9 281.0L1529.9 293.3L1530.1 323.5L1530.5 293.7L1531.1 301.5L1531.6 305.0L1532.1 309.9L1532.7 305.9L1532.9 273.0L1533.1 325.5L1533.2 308.4L1533.8 297.9L1534.3 298.8L1534.4 262.5L1534.6 326.5L1534.9 297.5L1535.4 306.3L1535.8 302.7L1535.9 282.0L1536.1 326.1L1536.3 307.4L1536.7 303.7L1537.2 309.0L1537.4 278.0L1537.6 334.8L1537.8 308.5L1538.3 306.0L1538.8 298.9L1539.2 299.3L1539.6 291.6L1540.0 295.1L1540.4 270.0L1540.5 287.3L1540.6 325.0L1541.0 290.8L1541.4 281.4L1541.9 257.2L1542.0 270.3L1542.1 324.5L1542.5 286.9L1543.0 301.0L1543.5 306.7L1544.0 318.9L1544.1 282.0L1544.4 323.8L1544.6 311.7L1544.9 281.3L1544.9 309.6L1545.1 323.5L1545.4 301.5L1545.9 304.6L1546.3 295.4L1546.9 291.9L1547.5 281.6L1548.0 286.5L1548.6 284.4L1549.1 291.3L1549.7 294.0L1550.2 297.9L1550.9 290.7L1550.9 276.0L1551.1 327.1L1551.2 297.5L1551.8 286.4L1552.1 292.1L1552.4 268.0L1552.6 281.1L1552.6 328.0L1553.1 264.0L1553.3 287.3L1553.4 327.9L1553.6 273.7L1554.1 285.8L1554.6 279.3L1555.1 286.1L1555.4 247.5L1555.5 282.0L1555.6 327.4L1555.9 292.8L1556.5 293.0L1557.0 304.4L1557.4 305.0L1558.0 316.1L1558.6 298.2L1558.7 240.0L1558.9 326.7L1559.1 298.2L1559.7 286.7L1559.9 253.5L1560.1 326.5L1560.3 283.1L1560.7 272.0L1561.2 274.3L1561.8 262.1L1562.1 258.0L1562.3 274.3L1562.4 328.0L1562.9 278.7L1563.5 287.7L1564.0 291.7L1564.4 273.0L1564.5 298.8L1564.6 329.5L1564.9 296.1L1565.4 302.7L1565.9 272.0L1566.0 300.2L1566.1 340.0L1566.4 306.0L1566.6 265.5L1566.9 331.0L1566.9 295.0L1567.4 308.3L1567.8 303.4L1568.3 309.7L1568.8 306.6L1568.9 270.0L1569.1 332.5L1569.4 310.9L1569.9 307.2L1570.4 270.0L1570.5 315.3L1570.6 337.4L1571.1 308.0L1571.6 319.4L1571.9 275.0L1572.0 310.5L1572.1 342.2L1572.4 312.8L1573.0 303.3L1573.6 300.8L1574.1 289.9L1574.5 293.6L1574.9 285.0L1575.1 287.4L1575.1 342.8L1575.4 298.9L1575.9 295.8L1576.4 303.7L1576.4 283.8L1576.6 343.0L1576.7 297.7L1577.3 309.1L1577.9 301.7L1578.4 308.8L1578.6 282.0L1578.9 329.5L1578.9 301.3L1579.4 282.8L1579.5 304.9L1579.6 325.0L1580.0 299.1L1580.1 270.8L1580.3 302.4L1580.4 331.0L1580.7 305.0L1581.2 309.9L1581.6 285.0L1581.7 319.9L1581.9 370.0L1582.1 320.8L1582.6 313.3L1583.0 328.8L1583.6 325.1L1584.1 340.9L1584.6 335.9L1585.3 355.3L1585.7 353.7L1586.3 365.9L1586.9 286.5L1586.9 353.5L1587.1 382.0L1587.4 347.9L1588.0 321.3L1588.5 323.3L1588.9 315.2L1589.5 333.6L1589.9 285.9L1590.1 383.5L1590.2 341.2L1590.6 365.2L1590.9 359.9L1591.3 381.1L1591.8 355.7L1592.1 364.7L1592.5 351.8L1592.9 285.3L1593.0 352.9L1593.1 383.5L1593.6 321.4L1594.2 319.7L1594.4 285.0L1594.5 311.7L1594.6 354.5L1594.9 315.9L1595.1 274.5L1595.4 340.0L1595.4 307.4L1595.8 319.5L1596.3 315.9L1596.7 329.9L1597.2 320.8L1597.4 223.5L1597.6 355.0L1597.7 333.7L1598.1 333.4L1598.7 346.8L1598.9 255.0L1599.1 391.3L1599.3 244.4L1599.3 333.5L1599.6 439.0L1600.0 331.4L1600.4 163.5L1600.6 270.5L1600.6 410.2L1601.1 294.4L1601.1 202.1L1601.4 424.0L1601.6 268.5L1601.9 184.5L1602.1 404.5L1602.2 399.8L1602.6 242.3L1602.6 184.5L1602.9 385.0L1603.2 265.8L1603.4 184.5L1603.6 191.9L1603.6 355.0L1604.1 182.6L1604.2 310.2L1604.4 325.0L1604.6 228.7L1604.9 168.0L1605.1 310.0L1605.1 273.3L1605.7 201.3L1606.2 239.5L1606.4 177.0L1606.6 201.5L1606.6 310.0L1607.3 287.1L1607.7 232.6L1608.2 225.5L1608.6 165.0L1608.8 225.3L1608.9 310.0L1609.3 243.7L1609.7 247.5L1610.1 192.0L1610.2 234.5L1610.4 310.0L1610.8 248.6L1610.9 183.8L1611.1 310.0L1611.2 213.0L1611.7 267.0L1611.9 140.2L1612.2 346.7L1612.2 299.3L1612.4 161.4L1612.6 362.5L1612.7 214.8L1613.1 159.0L1613.2 292.8L1613.4 363.8L1613.8 184.6L1614.3 293.3L1614.6 207.0L1614.7 293.0L1614.9 366.2L1615.3 243.0L1615.8 295.0L1616.4 296.3L1616.8 252.8L1616.9 216.0L1617.1 366.2L1617.4 329.1L1617.9 225.7L1618.4 189.0L1618.5 321.8L1618.6 356.8L1618.9 259.3L1619.1 187.0L1619.4 352.0L1619.5 218.5L1620.1 283.3L1620.5 270.2L1620.6 146.2L1620.9 356.0L1621.1 178.4L1621.4 170.4L1621.6 358.0L1621.7 180.0L1621.7 313.1L1621.9 359.6L1622.2 300.8L1622.6 283.7L1622.9 234.0L1623.0 306.1L1623.1 366.0L1623.6 326.4L1623.6 259.5L1623.9 370.0L1624.2 324.5L1624.4 285.0L1624.6 395.7L1624.7 285.0L1624.8 344.4L1624.9 406.0L1625.4 337.4L1625.8 295.1L1625.9 285.0L1626.1 373.0L1626.4 342.4L1626.9 317.6L1627.4 326.4L1627.8 354.4L1628.4 313.0L1628.8 341.0L1628.9 285.0L1629.1 382.0L1629.2 330.8L1629.6 308.9L1630.1 364.6L1630.6 327.1L1631.1 315.4L1631.5 350.0L1631.9 285.0L1631.9 314.5L1632.1 386.5L1632.5 333.3L1633.0 324.8L1633.4 285.0L1633.4 300.3L1633.6 361.4L1633.9 280.6L1634.1 225.0L1634.4 358.0L1634.5 302.6L1635.0 223.9L1635.5 301.0L1635.6 185.2L1635.9 326.0L1636.1 213.3L1636.4 185.6L1636.5 272.1L1636.6 310.0L1637.0 206.5L1637.1 186.0L1637.4 321.6L1637.4 246.4L1637.9 190.5L1637.9 290.0L1638.1 333.2L1638.3 241.2L1638.6 173.2L1638.9 333.1L1638.9 292.6L1639.4 248.0L1639.8 283.7L1640.1 204.0L1640.3 318.4L1640.4 332.7L1640.7 222.8L1640.9 196.0L1641.1 332.5L1641.2 259.9L1641.7 262.9L1642.2 226.8L1642.4 180.0L1642.6 327.5L1642.7 289.2L1643.2 267.0L1643.7 235.4L1643.9 179.2L1644.1 251.8L1644.1 322.5L1644.6 182.4L1644.7 289.4L1644.9 349.8L1645.1 234.7L1645.4 168.8L1645.6 317.5L1645.7 272.7L1646.1 290.0L1646.5 206.5L1646.9 192.0L1646.9 253.5L1647.1 312.5L1647.4 288.8L1647.6 208.5L1647.9 310.0L1647.9 252.7L1648.4 225.0L1648.4 284.6L1648.6 310.0L1649.1 268.1L1649.5 286.4L1650.0 241.2L1650.6 291.0L1650.6 222.0L1650.9 352.8L1651.0 274.1L1651.5 261.7L1652.1 285.9L1652.5 251.7L1652.9 231.0L1652.9 287.1L1653.1 310.0L1653.3 282.2L1653.6 231.4L1653.9 310.0L1653.9 243.6L1654.5 267.9L1655.0 286.0L1655.6 271.1L1655.9 225.0L1656.1 334.0L1656.1 312.8L1656.7 277.6L1657.2 280.2L1657.6 254.6L1658.2 318.9L1658.8 259.3L1658.9 234.0L1659.1 341.5L1659.4 297.4L1660.0 249.2L1660.4 286.3L1660.8 274.4L1661.1 237.6L1661.4 298.0L1661.5 259.2L1662.0 260.5L1662.6 281.9L1662.6 240.0L1662.9 296.7L1663.2 241.0L1663.7 279.5L1664.1 239.4L1664.3 269.5L1664.4 321.2L1664.9 294.8L1665.4 265.9L1665.9 259.5L1666.4 238.5L1666.6 282.1L1666.6 293.5L1667.0 261.0L1667.3 253.3L1667.9 266.6L1668.5 268.3L1669.2 272.5L1669.4 231.0L1669.6 293.5L1669.7 257.6L1670.1 281.6L1670.5 240.2L1670.9 232.5L1670.9 276.7L1671.1 293.5L1671.5 245.9L1672.0 274.4L1672.4 234.0L1672.4 297.0L1672.6 315.5L1673.0 255.1L1673.1 234.9L1673.4 326.5L1673.6 295.7L1674.3 260.6L1674.7 255.4L1675.2 313.3L1675.8 270.1L1676.1 238.5L1676.2 286.1L1676.4 338.5L1676.7 294.3L1677.3 263.2L1677.8 274.6L1678.3 300.2L1678.4 235.8L1678.6 323.5L1678.8 255.3L1679.2 304.1L1679.6 250.9L1679.9 234.0L1680.1 292.1L1680.1 323.1L1680.6 267.1L1681.1 252.4L1681.4 234.0L1681.6 279.7L1681.6 322.8L1682.0 290.3L1682.6 257.5L1683.1 299.6L1683.6 228.0L1683.7 250.4L1683.9 302.5L1684.1 284.8L1684.8 263.3L1685.2 273.9L1685.6 283.4L1685.9 234.0L1686.1 250.1L1686.1 325.8L1686.6 288.6L1687.1 259.6L1687.4 234.0L1687.6 305.7L1687.6 293.1L1688.1 268.7L1688.5 246.6L1688.9 234.8L1689.1 307.0L1689.1 288.8L1689.5 265.5L1689.9 273.4L1690.4 289.9L1690.9 263.0L1691.1 235.9L1691.4 331.8L1691.5 311.8L1692.0 277.9L1692.5 254.5L1693.1 303.0L1693.4 237.0L1693.5 262.1L1693.6 314.7L1693.8 272.0L1694.1 231.0L1694.3 263.0L1694.4 316.0L1694.7 257.2L1694.9 225.0L1695.1 311.5L1695.3 293.9L1695.6 213.0L1695.8 239.9L1695.9 307.0L1696.4 231.0L1696.4 293.4L1696.6 302.5L1696.9 260.7L1697.1 234.0L1697.4 307.2L1697.5 299.7L1698.0 249.8L1698.6 302.8L1699.2 278.2L1699.7 273.0L1700.1 280.0L1700.6 237.8L1700.9 234.0L1701.1 274.7L1701.1 331.0L1701.6 311.0L1702.1 276.5L1702.6 324.2L1703.1 234.0L1703.2 291.6L1703.4 350.5L1703.8 283.0L1703.9 234.0L1704.1 343.8L1704.4 294.9L1704.8 240.4L1705.4 216.0L1705.5 313.4L1705.6 358.0L1706.0 242.7L1706.5 254.5L1707.1 270.7L1707.6 216.0L1707.8 248.3L1707.9 310.0L1708.3 275.7L1708.8 267.7L1709.1 209.2L1709.2 240.9L1709.4 307.0L1709.7 273.4L1709.9 210.0L1710.1 305.5L1710.3 231.1L1710.9 257.2L1711.4 211.5L1711.5 263.0L1711.6 311.5L1712.1 238.3L1712.6 276.1L1712.9 213.0L1713.1 317.5L1713.2 243.2L1713.6 220.5L1713.7 294.0L1713.9 336.2L1714.2 238.0L1714.4 228.0L1714.6 323.5L1714.8 262.7L1715.1 308.0L1715.6 262.7L1716.2 303.2L1716.6 252.0L1716.8 280.1L1716.9 332.5L1717.2 305.6L1717.8 254.0L1718.3 293.6L1718.9 253.3L1718.9 263.9L1719.1 293.5L1719.3 272.0L1719.8 288.5L1720.5 276.0L1721.1 300.5L1721.7 279.8L1721.9 255.0L1722.1 304.9L1722.1 333.2L1722.7 270.2L1723.1 299.6L1723.6 275.2L1723.9 281.3L1724.5 317.6L1724.9 256.3L1724.9 285.3L1725.1 328.0L1725.6 294.2L1726.0 313.8L1726.3 291.3L1726.9 282.1L1727.4 324.4L1727.8 267.9L1727.9 257.7L1728.1 323.5L1728.4 309.3L1728.6 258.0L1728.9 323.5L1728.9 269.0L1729.1 258.0L1729.3 323.5L1729.4 319.5" fill="none" stroke="#000" stroke-width="2.08" stroke-linejoin="round"/>
<path d="M1231.3 291.9L1231.4 303.5L1231.9 302.6L1232.1 296.7L1232.4 291.5L1232.5 297.7L1232.6 303.5L1232.8 295.1L1233.3 299.9L1233.6 292.8L1233.9 299.2L1234.3 297.9L1234.7 301.1L1235.2 292.8L1235.7 299.6L1236.1 296.2L1236.1 290.8L1236.4 308.0L1236.4 308.2L1236.8 296.1L1237.2 308.0L1237.7 296.6L1238.1 311.2L1238.5 301.2L1238.9 314.8L1239.1 296.0L1239.4 316.2L1239.5 299.7L1240.0 306.9L1240.4 305.0L1240.7 311.0L1241.1 298.3L1241.3 310.9L1241.8 302.8L1242.1 311.6L1242.6 304.4L1242.9 297.5L1243.0 310.3L1243.1 314.0L1243.4 301.6L1243.9 309.6L1244.2 303.5L1244.8 313.2L1245.2 301.7L1245.7 313.1L1245.9 302.0L1246.0 304.8L1246.1 320.0L1246.3 315.7L1246.6 303.2L1246.8 310.8L1247.2 306.7L1247.7 312.6L1248.0 302.2L1248.4 310.9L1248.9 294.5L1248.9 297.5L1249.1 312.5L1249.2 310.8L1249.5 305.2L1249.9 312.3L1250.3 302.7L1250.6 308.3L1250.8 305.1L1251.1 309.8L1251.4 304.7L1251.7 311.0L1252.1 305.4L1252.5 311.6L1252.6 299.0L1252.9 314.0L1253.0 300.7L1253.3 308.1L1253.7 306.5L1254.0 311.6L1254.5 304.0L1254.8 313.5L1255.1 303.0L1255.6 313.9L1256.1 303.6L1256.4 300.5L1256.6 315.0L1256.6 315.5L1257.1 307.2L1257.4 316.4L1257.7 309.0L1258.0 314.0L1258.5 310.8L1259.0 313.3L1259.5 306.8L1259.8 321.7L1260.1 306.5L1260.3 308.5L1260.4 323.8L1260.6 320.2L1261.0 310.7L1261.3 317.8L1261.6 316.1L1262.0 322.7L1262.6 312.4L1262.9 321.7L1263.2 317.3L1263.4 321.3L1263.9 315.5L1263.9 316.4L1264.1 323.0L1264.3 319.6L1264.7 315.6L1265.2 319.9L1265.6 315.4L1265.9 322.2L1266.3 316.6L1266.7 320.4L1267.0 316.0L1267.3 320.1L1267.8 316.7L1268.1 321.0L1268.4 314.8L1268.6 322.2L1268.7 315.4L1269.2 319.2L1269.5 316.1L1269.9 321.1L1270.3 314.9L1270.9 319.6L1271.2 316.2L1271.5 319.3L1271.8 315.7L1272.3 320.7L1272.5 313.5L1272.8 319.8L1272.9 312.5L1273.1 321.5L1273.3 314.8L1273.6 321.3L1273.9 314.0L1274.3 321.0L1274.7 316.4L1275.0 321.3L1275.5 315.7L1276.0 320.6L1276.6 317.7L1277.1 321.7L1277.4 317.8L1277.6 318.4L1277.6 322.2L1278.0 322.3L1278.5 320.3L1279.0 322.2L1279.3 319.5L1279.6 323.8L1280.1 319.4L1280.5 322.5L1280.8 319.1L1281.3 324.6L1281.8 319.4L1281.9 319.2L1282.1 325.4L1282.1 326.0L1282.6 320.4L1283.0 324.2L1283.4 320.4L1283.7 326.0L1283.9 323.2L1284.4 327.5L1284.9 323.6L1285.3 328.0L1285.6 323.6L1285.9 327.5L1286.2 322.1L1286.4 320.8L1286.5 326.6L1286.6 329.0L1286.8 322.4L1287.3 328.1L1287.6 321.7L1288.1 328.4L1288.5 322.0L1288.9 325.9L1289.2 321.8L1289.7 326.0L1290.1 323.4L1290.3 328.8L1290.8 324.0L1290.9 320.8L1291.1 330.5L1291.3 328.8L1291.7 323.5L1292.0 329.9L1292.3 323.9L1292.6 329.1L1293.0 324.5L1293.4 328.8L1293.8 323.6L1293.9 322.2L1294.1 332.0L1294.3 330.5L1294.6 321.8L1294.9 329.5L1295.4 324.2L1295.7 330.3L1296.1 320.7L1296.4 329.6L1296.7 324.5L1297.0 331.1L1297.5 319.3L1298.0 326.0L1298.4 314.8L1298.5 320.7L1298.6 331.2L1298.8 328.1L1299.1 318.2L1299.5 325.3L1299.7 318.6L1300.2 324.0L1300.7 319.3L1301.2 327.0L1301.7 321.4L1302.0 324.6L1302.5 320.4L1302.9 330.8L1302.9 317.0L1303.1 331.2L1303.3 322.0L1303.6 326.4L1303.9 318.9L1304.3 330.0L1304.6 319.8L1304.8 329.7L1305.1 321.3L1305.5 328.9L1306.0 319.2L1306.5 327.6L1307.0 320.5L1307.4 316.2L1307.5 322.6L1307.6 329.0L1308.0 318.6L1308.5 327.3L1308.9 316.9L1309.4 324.5L1309.8 315.5L1310.1 325.9L1310.4 316.4L1310.9 320.3L1311.3 314.7L1311.8 323.3L1311.9 309.5L1312.1 316.1L1312.1 326.8L1312.5 325.5L1312.7 310.6L1313.1 322.4L1313.5 310.5L1313.9 319.7L1314.2 314.9L1314.6 323.2L1315.1 318.0L1315.6 324.9L1315.9 317.3L1316.3 322.5L1316.4 311.0L1316.6 327.5L1316.8 319.2L1317.3 326.4L1317.7 316.7L1318.3 319.9L1318.6 320.9L1318.6 311.8L1318.9 327.5L1318.9 332.0L1319.3 315.0L1319.6 323.5L1320.1 316.1L1320.5 320.9L1321.0 315.1L1321.3 321.3L1321.6 304.2L1321.7 313.5L1321.9 326.0L1321.9 320.7L1322.3 312.6L1322.7 324.7L1323.1 316.3L1323.6 321.2L1323.9 312.5L1324.1 327.5L1324.1 315.8L1324.7 321.0L1325.1 313.1L1325.4 312.5L1325.5 328.8L1325.6 338.8L1325.8 317.0L1326.2 326.8L1326.5 315.7L1326.9 312.5L1326.9 325.7L1327.1 327.5L1327.3 317.4L1327.6 322.9L1328.1 312.6L1328.4 305.0L1328.5 319.3L1328.6 326.0L1329.0 306.2L1329.5 321.0L1329.8 313.1L1330.2 319.1L1330.6 306.2L1331.0 313.2L1331.3 307.1L1331.4 304.2L1331.6 315.9L1331.6 320.0L1331.9 311.1L1332.4 314.2L1332.7 306.9L1332.9 320.2L1333.4 306.8L1333.8 321.1L1334.2 307.0L1334.4 305.8L1334.6 322.2L1334.7 316.4L1335.0 313.6L1335.5 317.1L1335.9 311.3L1336.2 323.9L1336.7 309.1L1337.2 324.3L1337.4 309.5L1337.6 326.8L1337.7 310.1L1338.2 325.5L1338.6 311.8L1339.0 326.5L1339.3 312.9L1339.8 320.4L1340.1 314.7L1340.5 322.7L1340.9 313.3L1341.3 327.6L1341.6 313.8L1341.9 312.5L1342.0 330.8L1342.1 333.5L1342.2 320.1L1342.7 322.8L1343.2 318.9L1343.5 322.0L1343.9 321.6L1344.4 327.0L1344.9 317.4L1344.9 316.2L1345.1 329.0L1345.3 324.6L1345.6 319.7L1346.0 325.6L1346.3 321.5L1346.7 328.6L1347.1 320.6L1347.6 329.1L1348.0 319.6L1348.4 325.1L1348.7 318.0L1349.2 328.9L1349.4 317.0L1349.6 329.8L1349.7 321.9L1349.9 328.4L1350.4 321.1L1350.9 328.8L1351.4 319.6L1351.8 326.2L1352.0 323.4L1352.4 320.0L1352.4 325.6L1352.6 330.5L1352.7 322.5L1353.0 328.9L1353.4 320.8L1353.6 327.0L1354.1 324.3L1354.5 328.0L1355.0 322.8L1355.3 329.6L1355.8 320.5L1356.2 331.3L1356.6 317.7L1356.9 317.0L1357.1 326.1L1357.1 332.0L1357.4 321.6L1357.7 326.5L1358.2 319.3L1358.6 328.0L1359.1 317.2L1359.5 328.3L1359.9 316.2L1360.0 320.9L1360.1 333.5L1360.3 329.6L1360.6 320.5L1361.1 328.0L1361.4 320.7L1362.0 325.7L1362.3 319.2L1362.8 328.7L1363.3 322.4L1363.8 325.7L1364.2 317.6L1364.4 315.5L1364.6 327.0L1364.6 330.5L1364.9 323.2L1365.2 326.7L1365.6 321.9L1365.9 326.8L1366.2 321.4L1366.7 324.7L1367.1 318.7L1367.4 330.5L1368.0 316.7L1368.1 314.0L1368.3 332.1L1368.4 333.5L1368.6 310.7L1369.2 324.7L1369.2 288.5L1369.4 333.5L1369.5 303.1L1369.8 329.5L1370.4 317.9L1370.4 314.0L1370.6 333.5L1370.8 329.1L1371.2 315.2L1371.5 329.7L1371.9 315.6L1372.5 325.7L1373.0 317.3L1373.4 312.5L1373.5 327.8L1373.6 332.0L1373.9 313.7L1374.1 329.2L1374.4 312.9L1374.8 329.5L1375.3 316.3L1375.8 327.1L1376.2 315.0L1376.7 323.8L1377.2 312.4L1377.4 327.5L1377.7 315.4L1377.9 311.0L1378.1 329.8L1378.2 322.1L1378.6 312.4L1379.1 320.4L1379.4 320.0L1379.6 325.6L1380.0 310.9L1380.3 320.3L1380.7 316.3L1381.3 321.0L1381.6 304.2L1381.8 312.8L1381.9 329.0L1382.2 326.0L1382.4 313.3L1382.9 327.7L1383.2 315.3L1383.6 323.8L1384.0 317.8L1384.3 320.2L1384.7 313.8L1384.9 328.3L1385.4 309.5L1385.4 316.1L1385.6 329.0L1385.9 323.3L1386.1 310.8L1386.5 326.9L1386.9 311.0L1387.4 320.6L1387.6 313.2L1387.9 327.8L1388.2 319.7L1388.6 328.5L1388.9 318.3L1389.4 322.2L1389.9 312.5L1389.9 319.0L1390.1 329.8L1390.4 322.1L1390.8 317.4L1391.3 324.1L1391.9 320.0L1392.3 328.5L1392.7 316.5L1393.0 328.9L1393.4 313.9L1393.6 306.5L1393.8 326.5L1393.9 335.0L1394.3 310.3L1394.8 330.2L1395.1 309.4L1395.1 306.5L1395.3 347.0L1395.4 350.0L1395.7 308.9L1396.0 330.9L1396.4 313.1L1396.6 305.0L1396.8 333.4L1396.9 342.5L1397.2 323.5L1397.6 338.0L1397.9 317.5L1398.1 270.5L1398.3 336.5L1398.4 342.5L1398.6 316.9L1398.9 327.6L1399.4 306.4L1399.6 305.0L1399.8 325.4L1399.9 341.0L1400.1 311.2L1400.6 336.4L1400.9 309.1L1401.2 336.1L1401.5 320.6L1401.9 333.7L1402.3 318.3L1402.5 325.7L1403.1 316.4L1403.4 311.0L1403.6 327.4L1403.6 332.0L1403.9 318.3L1404.2 324.7L1404.4 319.6L1404.9 323.7L1405.3 316.2L1405.8 324.6L1406.4 311.3L1406.8 319.2L1407.1 315.1L1407.1 311.0L1407.4 317.5L1407.4 324.5L1407.8 310.6L1408.2 317.9L1408.5 310.3L1408.9 317.3L1409.3 313.6L1409.7 315.5L1410.0 308.7L1410.2 317.6L1410.5 310.6L1410.9 318.6L1411.2 307.0L1411.6 304.2L1411.7 313.0L1411.9 320.0L1412.2 310.4L1412.7 314.5L1413.1 308.5L1413.3 319.3L1413.8 311.6L1414.3 313.3L1414.8 309.0L1415.1 320.4L1415.5 313.0L1415.8 320.7L1416.1 306.5L1416.3 310.3L1416.4 322.2L1416.7 319.7L1416.9 311.8L1417.3 318.9L1417.6 313.2L1417.8 319.9L1418.2 314.4L1418.6 321.1L1419.1 314.0L1419.6 320.5L1419.9 306.5L1420.1 309.9L1420.1 323.0L1420.6 320.1L1421.0 305.9L1421.4 317.3L1422.0 310.3L1422.4 322.6L1422.9 309.9L1423.4 322.8L1423.7 305.5L1424.1 323.6L1424.4 307.6L1424.4 303.5L1424.6 325.2L1424.6 314.8L1425.0 312.9L1425.5 317.2L1426.1 313.3L1426.4 319.9L1426.9 308.7L1427.2 320.3L1427.4 309.3L1427.8 318.7L1428.3 307.4L1428.7 315.6L1428.9 308.0L1429.1 323.0L1429.2 308.8L1429.6 316.6L1429.9 308.9L1430.5 318.4L1431.0 315.0L1431.1 309.5L1431.4 324.5L1431.4 321.2L1431.8 315.2L1432.1 320.1L1432.3 309.5L1432.4 309.9L1432.6 340.2L1432.8 327.4L1433.2 309.3L1433.5 323.7L1433.7 305.0L1433.9 324.5L1434.0 311.4L1434.4 322.2L1434.9 313.2L1435.3 319.8L1435.6 302.0L1435.8 302.4L1435.9 324.5L1436.1 326.1L1436.6 305.0L1436.7 302.0L1436.8 318.9L1436.9 336.5L1437.3 301.8L1437.8 312.4L1437.9 300.5L1438.1 301.8L1438.1 321.5L1438.6 320.0L1439.1 303.6L1439.3 315.6L1439.6 301.0L1440.1 318.0L1440.3 305.5L1440.8 314.5L1440.9 299.0L1441.1 320.0L1441.2 299.5L1441.5 314.7L1441.9 299.5L1442.4 315.1L1442.9 302.2L1443.3 312.4L1443.8 298.6L1444.2 316.2L1444.7 303.5L1445.2 319.4L1445.4 296.0L1445.6 320.0L1445.7 303.3L1446.0 316.6L1446.5 300.3L1446.8 308.4L1447.3 297.4L1447.8 317.6L1448.1 299.1L1448.4 318.1L1448.7 295.4L1449.1 293.0L1449.2 311.2L1449.4 318.5L1449.6 295.7L1450.0 310.9L1450.5 303.6L1450.8 311.2L1451.1 303.0L1451.6 306.9L1452.0 295.3L1452.3 313.5L1452.8 302.6L1452.9 294.5L1453.1 317.8L1453.3 313.3L1453.8 295.8L1454.1 315.8L1454.5 295.9L1455.0 312.9L1455.3 303.1L1455.8 305.1L1456.3 295.3L1456.8 306.2L1457.1 294.9L1457.4 293.0L1457.4 313.4L1457.6 314.8L1457.7 294.2L1458.0 307.1L1458.5 298.3L1458.8 308.7L1459.1 298.3L1459.5 310.8L1459.8 297.3L1460.2 303.1L1460.5 295.8L1460.9 299.4L1461.2 290.2L1461.5 306.4L1461.7 288.0L1461.9 285.5L1462.1 298.3L1462.1 309.5L1462.6 291.9L1463.0 300.6L1463.6 286.6L1464.0 299.0L1464.5 290.3L1464.9 282.5L1465.0 299.9L1465.1 309.5L1465.4 294.8L1465.7 310.0L1466.0 291.8L1466.3 299.9L1466.7 281.0L1466.7 285.3L1466.9 312.5L1467.1 304.4L1467.4 282.8L1467.7 315.9L1468.2 245.0L1468.2 266.3L1468.4 320.0L1468.8 315.6L1469.3 293.5L1469.7 322.2L1469.7 281.0L1469.9 341.8L1470.1 290.5L1470.6 303.2L1470.9 285.5L1471.0 295.0L1471.1 312.5L1471.3 302.5L1471.8 292.4L1472.1 311.0L1472.4 288.5L1472.5 295.5L1472.6 311.0L1472.8 302.4L1473.3 290.2L1473.7 308.7L1473.9 295.0L1474.4 307.3L1474.7 297.8L1475.1 307.2L1475.5 300.4L1475.8 303.5L1476.3 300.5L1476.6 312.3L1476.9 294.5L1477.0 303.3L1477.1 320.0L1477.4 310.3L1477.9 295.9L1478.2 305.7L1478.6 299.7L1479.1 306.9L1479.5 300.6L1479.9 305.1L1479.9 296.0L1480.1 309.5L1480.2 299.6L1480.7 309.3L1481.0 297.0L1481.4 307.6L1481.8 302.7L1482.3 309.1L1482.8 298.3L1483.2 296.0L1483.2 309.0L1483.4 311.0L1483.5 301.2L1483.9 309.0L1484.4 291.5L1484.5 300.3L1484.6 311.0L1485.0 309.0L1485.4 300.8L1485.8 311.1L1485.9 297.5L1486.1 300.5L1486.1 312.5L1486.4 310.3L1486.6 298.6L1486.9 310.6L1487.3 302.6L1487.8 312.8L1488.3 303.9L1488.5 311.7L1488.9 299.0L1489.1 300.2L1489.1 314.0L1489.6 307.4L1489.9 299.6L1490.2 307.6L1490.6 306.0L1490.9 307.1L1491.2 303.6L1491.7 312.3L1492.2 307.6L1492.5 312.3L1492.8 306.9L1493.3 313.2L1493.4 301.2L1493.5 303.3L1493.6 316.2L1493.9 314.7L1494.2 303.5L1494.7 315.8L1495.2 304.3L1495.6 314.9L1495.9 308.0L1496.4 311.6L1497.0 303.4L1497.2 316.2L1497.7 303.0L1497.9 300.5L1498.1 317.8L1498.3 309.4L1498.8 308.4L1499.2 316.6L1499.6 302.8L1499.9 315.6L1500.4 309.7L1500.7 314.5L1501.2 308.7L1501.5 315.0L1501.8 308.0L1502.1 318.2L1502.4 300.5L1502.4 308.6L1502.6 320.0L1503.0 313.4L1503.2 301.9L1503.5 313.2L1503.8 304.0L1504.3 319.1L1504.7 303.2L1505.0 313.1L1505.4 303.7L1505.9 318.5L1506.4 305.9L1506.7 318.3L1506.9 302.0L1507.1 321.5L1507.2 307.9L1507.7 320.9L1508.3 304.0L1508.7 317.2L1509.0 307.7L1509.3 317.3L1509.6 309.2L1510.1 320.4L1510.6 307.5L1510.9 319.6L1511.3 306.9L1511.4 303.5L1511.6 318.1L1511.6 323.0L1511.9 307.6L1512.1 318.5L1512.6 305.4L1512.9 319.5L1513.3 311.2L1513.8 315.8L1514.3 303.3L1514.6 315.4L1515.1 303.5L1515.1 301.2L1515.4 320.0L1515.5 317.5L1516.0 309.9L1516.3 311.9L1516.7 311.2L1517.0 314.2L1517.6 310.9L1518.1 315.1L1518.5 309.0L1518.8 314.8L1518.9 308.8L1519.1 309.6L1519.1 320.8L1519.4 317.6L1519.6 309.1L1520.0 316.2L1520.5 309.3L1520.9 318.5L1521.4 308.5L1521.8 317.9L1522.4 309.5L1522.9 316.5L1523.2 307.9L1523.8 315.0L1523.9 307.0L1524.1 320.5L1524.3 307.6L1524.7 317.9L1525.0 309.7L1525.3 319.1L1525.7 312.6L1526.2 314.1L1526.5 309.0L1527.0 316.5L1527.4 313.5L1527.7 320.6L1528.0 312.7L1528.4 316.3L1528.9 312.9L1529.3 315.4L1529.5 309.3L1529.9 319.3L1529.9 305.5L1530.1 323.5L1530.3 306.5L1530.7 318.8L1531.1 305.8L1531.4 322.2L1531.9 309.2L1532.2 320.1L1532.7 305.3L1533.1 315.2L1533.6 308.3L1534.0 317.9L1534.4 308.0L1534.8 321.7L1535.2 310.8L1535.6 313.6L1536.1 312.8L1536.6 316.9L1537.0 310.9L1537.4 304.0L1537.5 319.6L1537.6 322.0L1537.9 311.5L1538.4 318.6L1538.8 307.0L1539.1 319.2L1539.2 302.5L1539.4 323.5L1539.5 309.7L1540.1 285.2L1540.1 319.0L1540.3 330.2L1540.6 294.7L1541.0 325.0L1541.1 304.0L1541.3 305.3L1541.4 323.5L1541.7 318.4L1542.2 307.6L1542.6 316.2L1543.0 307.7L1543.3 314.7L1543.8 311.9L1544.1 322.7L1544.5 306.7L1544.9 304.8L1545.0 316.7L1545.1 323.5L1545.3 310.3L1545.6 319.0L1546.2 307.1L1546.5 320.2L1546.9 311.0L1547.2 323.7L1547.6 310.0L1548.0 315.5L1548.4 307.2L1548.9 320.2L1549.5 304.0L1549.9 322.3L1550.4 310.7L1550.8 321.6L1550.9 302.5L1551.1 325.0L1551.2 305.2L1551.7 314.4L1552.2 305.5L1552.5 324.6L1552.9 307.1L1553.4 319.4L1553.7 308.2L1553.9 307.0L1554.1 323.4L1554.1 328.0L1554.6 312.1L1555.2 318.5L1555.7 310.1L1556.1 319.6L1556.3 308.9L1556.7 320.0L1557.1 308.3L1557.6 320.2L1558.0 305.3L1558.5 322.5L1558.9 305.3L1559.4 319.4L1559.9 302.5L1560.0 310.0L1560.1 322.0L1560.3 315.1L1560.7 310.6L1561.1 315.8L1561.4 312.4L1561.7 315.5L1562.2 309.3L1562.8 315.4L1563.2 312.3L1563.5 314.2L1563.8 312.0L1564.2 314.3L1564.4 305.5L1564.5 310.5L1564.6 319.0L1564.8 318.5L1565.1 307.1L1565.3 317.6L1565.7 307.5L1566.1 316.1L1566.5 310.1L1566.9 317.5L1567.4 308.1L1567.8 317.6L1568.2 309.4L1568.5 313.3L1568.9 310.2L1568.9 307.0L1569.1 317.5L1569.3 314.3L1569.7 308.6L1570.3 315.9L1570.6 309.9L1570.9 312.9L1571.2 308.8L1571.5 314.9L1571.9 309.0L1572.3 316.8L1572.8 307.0L1573.3 314.9L1573.7 308.6L1574.0 316.9L1574.5 309.5L1574.9 305.5L1574.9 313.2L1575.1 319.0L1575.3 306.5L1575.8 318.2L1576.1 304.4L1576.6 311.3L1577.1 310.4L1577.6 315.4L1577.9 305.3L1578.4 310.8L1578.7 307.2L1579.0 317.2L1579.5 303.8L1580.0 313.1L1580.5 302.2L1580.9 320.3L1580.9 298.0L1581.1 323.5L1581.2 302.4L1581.6 314.8L1582.1 298.7L1582.6 316.1L1583.1 298.6L1583.6 312.5L1583.8 302.1L1584.4 317.0L1584.9 303.4L1585.2 311.2L1585.4 298.0L1585.6 317.5L1585.7 298.2L1586.1 311.8L1586.6 303.1L1587.1 312.6L1587.4 297.7L1587.9 310.4L1588.2 304.8L1588.4 295.0L1588.6 315.3L1588.6 320.5L1589.0 300.0L1589.4 314.6L1589.9 292.7L1590.3 309.4L1590.7 289.0L1590.9 307.4L1591.4 298.4L1591.4 284.5L1591.6 313.0L1591.7 306.8L1592.0 288.0L1592.3 309.4L1592.8 286.6L1593.0 309.3L1593.6 286.9L1593.9 305.0L1594.3 290.1L1594.8 305.0L1595.2 292.5L1595.7 304.3L1595.9 278.9L1596.0 284.5L1596.1 308.5L1596.3 296.5L1596.8 291.7L1597.2 307.4L1597.7 280.5L1598.1 295.4L1598.5 289.4L1598.9 293.4L1599.1 288.3L1599.5 305.5L1600.0 285.2L1600.4 275.9L1600.4 295.9L1600.6 317.5L1600.8 275.3L1601.2 293.1L1601.6 277.8L1602.0 306.1L1602.4 272.9L1602.8 308.3L1603.1 283.2L1603.4 306.8L1603.9 271.9L1604.2 293.0L1604.7 274.6L1604.9 266.9L1605.1 313.0L1605.2 312.3L1605.6 269.4L1605.9 294.6L1606.4 267.9L1606.7 308.8L1607.3 279.5L1607.8 305.6L1608.2 283.0L1608.6 296.6L1608.6 265.0L1608.9 283.6L1608.9 310.0L1609.2 297.8L1609.6 270.1L1610.0 300.4L1610.3 271.4L1610.6 307.9L1610.9 262.0L1611.0 280.0L1611.1 325.0L1611.4 288.5L1611.9 278.8L1612.3 285.0L1612.6 261.6L1613.0 292.2L1613.4 257.5L1613.9 256.0L1614.0 307.3L1614.1 313.0L1614.4 256.5L1614.8 297.8L1615.2 260.0L1615.6 288.9L1615.9 272.9L1616.2 281.2L1616.6 272.7L1616.9 250.0L1616.9 303.8L1617.1 308.5L1617.1 265.3L1617.5 289.2L1617.8 249.5L1618.2 301.8L1618.6 261.6L1619.1 289.6L1619.4 262.9L1619.9 279.9L1619.9 230.5L1620.1 305.5L1620.4 253.7L1620.6 301.9L1621.0 247.4L1621.4 290.1L1621.9 244.2L1622.2 293.3L1622.6 241.2L1622.9 276.8L1622.9 238.0L1623.1 299.5L1623.3 257.5L1623.6 284.9L1624.0 261.5L1624.4 284.7L1624.7 257.7L1625.0 274.3L1625.6 256.5L1625.9 253.0L1626.1 275.9L1626.1 295.0L1626.6 264.6L1627.1 290.9L1627.4 259.5L1627.5 272.0L1627.6 291.0L1627.9 281.1L1628.3 267.0L1628.7 277.6L1629.3 268.2L1629.6 270.0L1629.8 281.1L1629.9 282.0L1630.3 270.7L1630.8 279.3L1631.1 267.0L1631.2 268.6L1631.4 279.0L1631.7 268.2L1632.2 254.3L1632.6 232.5L1632.7 274.7L1632.9 277.5L1633.0 237.0L1633.3 272.8L1633.7 252.7L1634.2 256.2L1634.5 247.5L1634.8 258.2L1634.9 230.2L1635.1 276.0L1635.1 236.9L1635.6 259.6L1636.1 243.8L1636.7 267.6L1637.1 216.0L1637.2 242.2L1637.4 279.8L1637.7 265.6L1638.2 215.8L1638.6 205.5L1638.8 261.1L1638.9 262.5L1639.2 218.8L1639.4 205.5L1639.6 255.0L1639.7 235.7L1640.0 222.5L1640.3 240.3L1640.9 216.9L1640.9 207.0L1641.1 243.0L1641.2 239.0L1641.6 216.9L1641.9 230.6L1642.3 215.3L1642.4 195.0L1642.6 237.0L1642.8 224.1L1643.3 207.3L1643.7 235.0L1644.1 206.7L1644.4 232.0L1644.6 201.0L1644.9 235.5L1645.0 201.7L1645.4 229.5L1645.9 204.1L1646.1 216.8L1646.4 205.9L1646.8 229.5L1646.9 192.0L1647.1 234.0L1647.2 210.5L1647.5 227.5L1648.1 195.7L1648.4 220.3L1648.9 199.6L1649.1 191.2L1649.3 218.4L1649.4 228.0L1649.9 194.8L1650.3 215.4L1650.6 189.8L1650.6 204.7L1650.9 225.0L1651.0 208.0L1651.3 198.2L1651.7 189.0L1651.8 219.6L1651.9 225.0L1652.0 199.5L1652.4 223.3L1652.6 166.5L1652.7 191.7L1652.8 225.0L1653.1 203.3L1653.5 204.8L1653.6 195.0L1653.7 223.1L1653.9 225.0L1654.3 204.6L1654.7 217.0L1655.1 195.8L1655.4 220.4L1655.6 195.3L1655.9 192.0L1656.1 223.0L1656.1 225.0L1656.5 191.5L1657.0 206.8L1657.3 188.0L1657.5 208.2L1657.9 186.9L1658.1 183.0L1658.3 220.4L1658.4 222.0L1658.5 192.6L1658.9 200.9L1659.3 198.1L1659.5 180.0L1659.7 211.5L1659.7 219.0L1660.2 180.0L1660.4 163.5L1660.5 198.1L1660.6 216.0L1660.9 173.8L1661.2 206.4L1661.4 180.0L1661.5 196.1L1661.7 217.5L1661.7 205.1L1661.9 183.0L1662.1 192.8L1662.1 219.0L1662.7 216.7L1662.9 190.4L1663.3 215.0L1663.4 193.5L1663.6 222.0L1663.8 196.8L1664.2 212.5L1664.7 203.3L1665.1 221.2L1665.5 205.4L1665.6 196.5L1665.9 223.5L1666.0 215.3L1666.5 210.9L1667.0 227.2L1667.3 206.9L1667.6 223.3L1667.9 204.0L1668.0 207.0L1668.1 231.0L1668.5 227.3L1668.7 206.7L1669.1 227.2L1669.4 204.0L1669.5 217.6L1669.6 234.0L1669.7 232.0L1670.2 207.1L1670.5 226.8L1670.8 204.0L1670.9 202.5L1671.1 215.4L1671.1 228.0L1671.6 202.4L1672.0 222.9L1672.5 203.2L1672.8 210.0L1673.1 201.6L1673.1 188.2L1673.4 219.0L1673.7 211.7L1674.0 200.3L1674.4 213.4L1674.8 201.9L1675.2 213.7L1675.4 192.0L1675.5 193.7L1675.6 219.0L1676.0 217.3L1676.5 194.9L1676.7 207.2L1677.2 198.8L1677.6 193.5L1677.8 219.0L1677.9 223.5L1678.2 201.2L1678.6 214.4L1679.1 198.9L1679.4 213.7L1679.7 196.6L1679.9 193.5L1680.1 225.0L1680.2 209.2L1680.6 200.3L1681.2 216.1L1681.4 188.2L1681.5 201.8L1681.6 228.0L1681.8 206.6L1682.1 180.0L1682.2 198.9L1682.4 229.5L1682.5 224.7L1682.9 126.8L1683.0 133.2L1683.1 231.0L1683.4 216.7L1683.8 174.0L1683.9 200.7L1684.0 231.0L1684.3 230.0L1684.8 207.4L1685.1 195.0L1685.3 224.4L1685.4 234.0L1685.8 215.4L1686.3 233.5L1686.7 212.0L1687.0 230.4L1687.4 207.0L1687.4 221.0L1687.6 240.0L1687.6 240.0L1687.9 206.0L1688.2 251.2L1688.3 195.0L1688.5 255.0L1688.7 206.1L1688.9 186.0L1689.1 279.8L1689.2 258.6L1689.6 224.9L1689.8 237.7L1690.1 210.0L1690.3 255.0L1690.4 225.8L1690.9 246.1L1691.3 224.4L1691.8 259.9L1691.9 216.0L1692.1 264.0L1692.2 228.1L1692.6 241.7L1693.1 240.2L1693.5 256.1L1693.8 221.4L1694.1 256.9L1694.1 217.5L1694.4 262.5L1694.5 231.9L1694.7 258.6L1695.1 229.6L1695.6 248.9L1695.9 235.8L1696.3 252.8L1696.4 214.5L1696.6 261.0L1696.7 227.8L1697.2 255.3L1697.7 222.5L1698.0 261.3L1698.4 242.6L1698.6 225.0L1698.8 261.1L1698.9 264.0L1699.2 233.0L1699.5 256.1L1699.8 239.9L1700.3 251.4L1700.7 236.3L1700.9 232.5L1701.0 257.5L1701.1 267.0L1701.4 244.8L1701.6 264.0L1702.0 244.8L1702.4 257.1L1702.7 233.1L1703.0 253.2L1703.1 228.0L1703.4 267.0L1703.5 232.2L1703.8 255.7L1704.3 241.2L1704.7 255.3L1705.0 232.2L1705.4 228.0L1705.4 267.9L1705.6 270.0L1705.7 242.5L1706.1 228.0L1706.2 268.2L1706.4 270.8L1706.5 239.1L1707.0 261.0L1707.6 240.7L1707.9 255.9L1708.2 229.8L1708.4 226.5L1708.6 261.0L1708.6 252.7L1708.9 233.6L1709.4 247.5L1709.7 229.0L1709.9 228.0L1710.0 250.4L1710.1 255.0L1710.4 232.3L1710.7 253.3L1710.9 231.9L1711.2 249.6L1711.4 229.5L1711.6 230.5L1711.6 253.5L1711.9 252.8L1712.2 238.8L1712.6 244.7L1713.0 237.0L1713.6 251.0L1713.6 228.0L1713.9 252.0L1713.9 237.8L1714.3 246.6L1714.7 240.5L1715.1 245.3L1715.4 241.2L1715.8 246.2L1715.9 238.5L1716.1 252.0L1716.4 240.9L1716.8 248.1L1717.2 236.8L1717.8 243.6L1718.1 234.0L1718.2 236.0L1718.4 252.0L1718.5 249.9L1718.9 235.2L1718.9 225.0L1719.1 252.0L1719.3 249.0L1719.6 213.0L1719.8 219.0L1719.9 252.0L1720.4 228.0L1720.4 247.4L1720.6 253.5L1720.8 229.9L1721.1 231.0L1721.2 249.1L1721.4 253.5L1721.5 242.2L1722.0 251.6L1722.4 233.5L1722.8 246.3L1723.1 233.6L1723.4 232.5L1723.5 247.4L1723.6 255.0L1723.9 237.3L1724.3 251.0L1724.8 237.8L1724.9 231.0L1725.1 256.5L1725.2 256.5L1725.6 217.5L1725.7 222.3L1725.9 258.0L1726.2 252.5L1726.4 229.5L1726.4 239.9L1726.6 258.0L1727.0 245.7L1727.1 231.0L1727.3 240.6L1727.4 259.5L1727.6 256.2L1728.0 242.7L1728.4 254.3L1728.6 229.5L1728.7 243.9L1728.9 259.5L1729.1 250.0" fill="none" stroke="#ff0000" stroke-width="2.08" stroke-linejoin="round"/>
</g>
<line x1="1729.4" y1="455" x2="1729.4" y2="110" stroke="#000" stroke-width="2.78" stroke-dasharray="2.78 4.58"/>
<line x1="1800" y1="110" x2="1800" y2="456" stroke="#ff0000" stroke-width="2"/>
<line x1="1269.5" y1="455" x2="1269.5" y2="449.7" stroke="#000" stroke-width="1.2"/>
<line x1="1341.5" y1="455" x2="1341.5" y2="449.7" stroke="#000" stroke-width="1.2"/>
<line x1="1412.5" y1="455" x2="1412.5" y2="449.7" stroke="#000" stroke-width="1.2"/>
<line x1="1483.5" y1="455" x2="1483.5" y2="449.7" stroke="#000" stroke-width="1.2"/>
<line x1="1554.5" y1="455" x2="1554.5" y2="449.7" stroke="#000" stroke-width="1.2"/>
<line x1="1625.5" y1="455" x2="1625.5" y2="449.7" stroke="#000" stroke-width="1.2"/>
<line x1="1696.5" y1="455" x2="1696.5" y2="449.7" stroke="#000" stroke-width="1.2"/>
<line x1="1767.5" y1="455" x2="1767.5" y2="449.7" stroke="#000" stroke-width="1.2"/>
<text x="1225.7" y="462.2" font-size="19.9" text-anchor="end" fill="#000">&#8722;20</text>
<line x1="1231" y1="411.5" x2="1236.3" y2="411.5" stroke="#000" stroke-width="1.2"/>
<text x="1225.7" y="419.07" font-size="19.9" text-anchor="end" fill="#000">&#8722;15</text>
<line x1="1231" y1="368.5" x2="1236.3" y2="368.5" stroke="#000" stroke-width="1.2"/>
<text x="1225.7" y="375.95" font-size="19.9" text-anchor="end" fill="#000">&#8722;10</text>
<line x1="1231" y1="325.5" x2="1236.3" y2="325.5" stroke="#000" stroke-width="1.2"/>
<text x="1225.7" y="332.82" font-size="19.9" text-anchor="end" fill="#000">&#8722;5</text>
<line x1="1231" y1="282.5" x2="1236.3" y2="282.5" stroke="#000" stroke-width="1.2"/>
<text x="1225.7" y="289.7" font-size="19.9" text-anchor="end" fill="#000">0</text>
<line x1="1231" y1="239.5" x2="1236.3" y2="239.5" stroke="#000" stroke-width="1.2"/>
<text x="1225.7" y="246.57" font-size="19.9" text-anchor="end" fill="#000">5</text>
<line x1="1231" y1="196.5" x2="1236.3" y2="196.5" stroke="#000" stroke-width="1.2"/>
<text x="1225.7" y="203.45" font-size="19.9" text-anchor="end" fill="#000">10</text>
<line x1="1231" y1="153.5" x2="1236.3" y2="153.5" stroke="#000" stroke-width="1.2"/>
<text x="1225.7" y="160.32" font-size="19.9" text-anchor="end" fill="#000">15</text>
<text x="1225.7" y="117.2" font-size="19.9" text-anchor="end" fill="#000">20</text>
<text x="1804.9" y="462.1" font-size="19.9" text-anchor="start" fill="#ff0000">0</text>
<line x1="1800" y1="386.5" x2="1794.7" y2="386.5" stroke="#ff0000" stroke-width="1.2"/>
<text x="1804.9" y="393.1" font-size="19.9" text-anchor="start" fill="#ff0000">200</text>
<line x1="1800" y1="317.5" x2="1794.7" y2="317.5" stroke="#ff0000" stroke-width="1.2"/>
<text x="1804.9" y="324.1" font-size="19.9" text-anchor="start" fill="#ff0000">400</text>
<line x1="1800" y1="248.5" x2="1794.7" y2="248.5" stroke="#ff0000" stroke-width="1.2"/>
<text x="1804.9" y="255.1" font-size="19.9" text-anchor="start" fill="#ff0000">600</text>
<line x1="1800" y1="179.5" x2="1794.7" y2="179.5" stroke="#ff0000" stroke-width="1.2"/>
<text x="1804.9" y="186.1" font-size="19.9" text-anchor="start" fill="#ff0000">800</text>
<text x="1804.9" y="117.1" font-size="19.9" text-anchor="start" fill="#ff0000">1000</text>
<path d="M1801 110H1231V455H1801" fill="none" stroke="#000" stroke-width="2.0" stroke-linejoin="miter"/>
<text transform="translate(1142,321.8) rotate(-90)" font-size="24" text-anchor="start" fill="#000">IMF Bz</text>
<text transform="translate(1172.2,282) rotate(-90)" font-size="24" text-anchor="middle" fill="#000">( nT )</text>
<text transform="translate(1879.7,354) rotate(-90)" font-size="24" text-anchor="start" fill="#ff0000">SW Velocity</text>
<text transform="translate(1913.2,338.4) rotate(-90)" font-size="24" text-anchor="start" fill="#ff0000">(</text>
<text transform="translate(1913.2,322.8) rotate(-90)" font-size="24" text-anchor="start" fill="#ff0000">km</text>
<text transform="translate(1913.2,280.5) rotate(-90)" font-size="24" text-anchor="start" fill="#ff0000">s</text>
<text transform="translate(1904.5,266.2) rotate(-90)" font-size="16.8" text-anchor="start" fill="#ff0000">&#8722;1</text>
<text transform="translate(1913.2,234.2) rotate(-90)" font-size="24" text-anchor="start" fill="#ff0000">)</text>
<clipPath id="cr2"><rect x="1231" y="478" width="569" height="344"/></clipPath>
<line x1="1231" y1="512" x2="1800" y2="512" stroke="#000" stroke-width="2.08" stroke-dasharray="2.08 3.44"/>
<g clip-path="url(#cr2)">
<path d="M1231.3 547.0L1234.0 539.5L1237.0 523.8L1240.0 520.0L1243.8 515.5L1246.0 511.8L1248.5 508.4L1252.0 514.0L1255.0 511.8L1257.2 512.8L1261.0 517.0L1264.0 518.8L1267.0 517.3L1272.2 512.2L1276.8 511.8L1281.2 510.2L1285.0 509.9L1288.0 508.8L1293.2 508.8L1296.2 512.5L1299.2 514.0L1302.2 511.8L1305.2 506.5L1308.2 501.2L1311.2 497.2L1314.2 495.2L1316.5 495.7L1319.5 497.2L1325.5 497.2L1330.0 498.2L1333.0 499.3L1335.2 501.2L1338.2 505.8L1341.2 504.7L1345.8 501.7L1349.5 500.2L1352.5 497.2L1355.2 496.0L1357.8 502.0L1360.8 510.2L1364.5 525.2L1366.8 525.7L1370.5 522.7L1373.5 522.2L1376.2 529.0L1379.5 510.2L1382.5 508.8L1388.0 505.4L1391.2 513.0L1394.2 509.2L1396.8 509.2L1399.8 515.5L1402.8 518.2L1406.5 512.5L1411.8 511.3L1414.3 508.0L1417.0 513.7L1420.0 515.5L1423.8 513.2L1426.8 508.0L1429.3 509.5L1432.8 519.2L1435.8 523.8L1438.8 524.2L1441.0 525.7L1444.0 523.8L1447.0 521.2L1450.0 519.7L1453.3 530.2L1456.8 526.8L1459.8 514.8L1462.0 514.8L1464.2 512.5L1467.2 514.8L1470.7 520.8L1473.2 518.2L1476.2 517.3L1480.0 514.8L1483.8 514.5L1489.0 510.7L1492.0 520.5L1495.0 520.5L1497.7 511.8L1500.2 512.5L1503.7 521.5L1506.2 523.8L1509.5 527.5L1513.0 524.8L1516.0 523.8L1518.0 523.8L1521.8 520.0L1524.8 517.0L1527.3 506.5L1530.0 508.8L1533.3 514.5L1536.0 515.5L1539.0 518.2L1541.7 514.0L1545.0 519.2L1548.0 520.0L1551.0 521.8L1554.0 519.7L1557.8 518.5L1560.8 516.2L1563.8 513.2L1566.8 511.0L1569.0 506.5L1572.8 508.0L1575.3 510.2L1578.0 514.0L1581.0 522.2L1584.0 530.5L1586.7 538.0L1589.5 551.5L1592.2 553.0L1596.0 557.8L1598.2 559.0L1601.2 548.5L1602.8 553.0L1604.7 560.2L1607.2 545.5L1609.8 533.5L1612.5 527.5L1615.8 524.5L1619.2 529.0L1621.8 524.5L1625.2 527.8L1628.2 528.7L1631.0 517.3L1634.0 526.3L1638.0 522.5L1641.8 521.0L1645.8 520.3L1648.5 523.0L1651.5 529.0L1654.5 531.7L1657.5 534.2L1660.5 534.2L1663.5 532.8L1666.8 533.5L1669.5 526.0L1672.5 524.5L1675.8 517.8L1678.5 516.5L1681.5 518.2L1684.5 512.5L1686.8 517.8L1690.2 522.2L1692.8 520.8L1696.2 517.8L1698.8 518.2L1701.8 517.3L1705.5 512.5L1708.5 510.2L1711.5 509.5L1714.2 508.0L1717.5 511.4L1720.2 525.0L1722.8 522.5L1726.2 526.8" fill="none" stroke="#000" stroke-width="2.08" stroke-linejoin="round"/>
<path d="M1231.3 623.5L1231.4 694.5L1231.9 637.1L1232.5 630.8L1233.0 652.2L1233.6 644.6L1233.9 619.0L1234.0 657.2L1234.1 694.5L1234.6 648.0L1235.2 658.1L1235.6 637.4L1236.0 650.1L1236.1 612.2L1236.4 696.8L1236.6 636.3L1236.9 610.0L1237.1 643.4L1237.1 697.1L1237.5 639.0L1237.6 606.8L1237.9 697.5L1238.0 654.6L1238.5 665.6L1238.7 602.4L1238.9 746.2L1239.0 683.8L1239.6 598.5L1239.6 658.8L1239.8 693.0L1239.9 597.2L1240.0 669.3L1240.1 692.1L1240.5 651.4L1240.6 596.5L1240.9 690.0L1241.2 646.9L1241.7 595.5L1241.7 635.4L1241.9 693.0L1242.3 645.7L1242.6 589.1L1242.8 743.2L1242.8 622.0L1242.9 582.2L1243.1 728.0L1243.4 632.2L1243.5 593.7L1243.7 697.5L1243.8 618.4L1244.3 633.6L1244.4 592.8L1244.6 706.5L1244.7 621.1L1245.1 631.4L1245.1 592.0L1245.4 713.5L1245.5 606.7L1246.0 633.5L1246.5 632.9L1246.6 596.0L1246.9 727.5L1246.9 678.1L1247.3 677.7L1247.4 598.0L1247.6 716.2L1247.9 657.9L1248.5 652.3L1248.6 588.1L1248.8 735.0L1248.9 576.2L1249.0 659.2L1249.1 720.0L1249.5 644.6L1249.6 598.0L1249.9 682.5L1249.9 661.5L1250.3 645.5L1250.4 598.0L1250.6 675.0L1250.7 662.6L1251.4 654.3L1251.9 594.2L1252.0 666.2L1252.1 696.0L1252.6 664.7L1253.2 669.4L1253.7 601.3L1253.7 647.0L1253.9 693.0L1254.1 601.8L1254.3 661.2L1254.4 692.4L1254.7 632.9L1254.9 603.4L1255.1 729.8L1255.3 621.3L1255.8 610.7L1255.9 605.8L1256.2 634.8L1256.2 690.0L1256.8 636.0L1257.1 608.5L1257.1 659.7L1257.4 687.0L1257.8 662.8L1258.4 679.1L1259.0 657.4L1259.1 610.5L1259.3 688.5L1259.4 669.8L1259.8 662.4L1260.1 611.5L1260.3 668.6L1260.4 679.8L1260.6 665.8L1260.9 612.4L1261.1 669.0L1261.1 673.5L1261.4 656.5L1262.0 642.0L1262.4 614.2L1262.6 618.8L1262.6 660.0L1263.0 629.9L1263.5 638.4L1263.9 616.0L1264.1 649.3L1264.1 650.0L1264.6 636.6L1264.6 617.5L1264.9 645.0L1265.2 630.4L1265.8 622.6L1266.3 629.7L1266.8 633.7L1266.9 622.0L1267.1 640.5L1267.4 639.4L1267.8 614.2L1268.0 621.3L1268.0 642.0L1268.6 610.7L1268.7 606.4L1268.9 658.5L1269.0 607.1L1269.1 602.5L1269.4 649.5L1269.6 602.0L1269.6 615.1L1269.8 640.5L1270.1 611.2L1270.6 620.8L1270.6 601.0L1270.9 639.0L1271.1 611.1L1271.4 600.2L1271.6 611.1L1271.6 638.0L1272.2 605.7L1272.6 609.2L1272.9 599.5L1273.0 614.7L1273.1 648.8L1273.2 593.5L1273.4 630.4L1273.4 641.4L1273.7 630.7L1274.3 624.4L1274.8 614.1L1275.1 613.0L1275.4 633.0L1275.4 617.8L1276.0 623.8L1276.4 632.0L1276.8 628.0L1277.3 627.5L1277.7 622.3L1278.2 626.2L1278.7 624.5L1278.9 614.5L1279.1 634.1L1279.4 628.2L1279.8 624.2L1280.4 615.1L1280.4 625.9L1280.6 634.5L1280.9 622.0L1281.4 627.4L1282.0 627.2L1282.4 632.5L1282.6 616.0L1282.8 633.1L1282.9 637.5L1283.2 632.3L1283.6 625.0L1284.1 624.5L1284.7 621.6L1284.9 606.2L1285.1 640.5L1285.2 626.1L1285.8 628.0L1286.4 638.2L1286.8 613.6L1286.9 637.0L1287.1 652.5L1287.5 647.0L1287.9 613.0L1287.9 638.9L1288.1 674.2L1288.4 636.9L1288.9 617.2L1289.0 623.6L1289.2 660.0L1289.4 629.6L1289.9 630.6L1290.1 622.0L1290.4 661.5L1290.4 635.9L1290.8 629.2L1291.3 635.0L1291.9 620.3L1292.4 596.5L1292.5 616.6L1292.6 649.5L1293.0 618.4L1293.5 634.3L1293.9 635.3L1294.5 653.0L1294.6 598.0L1294.9 639.1L1294.9 653.4L1295.4 595.8L1295.4 630.7L1295.6 666.0L1296.1 617.6L1296.6 631.7L1296.9 591.2L1297.1 629.7L1297.1 657.4L1297.6 642.6L1298.1 628.1L1298.4 591.8L1298.5 631.5L1298.6 660.0L1298.9 618.5L1299.1 592.0L1299.3 622.6L1299.4 664.0L1299.8 614.9L1300.3 628.7L1300.6 602.0L1300.7 624.6L1300.9 672.0L1301.3 634.3L1301.4 607.0L1301.6 672.0L1301.7 628.3L1301.8 608.5L1302.1 672.0L1302.2 637.7L1302.6 632.8L1302.9 612.0L1303.1 646.8L1303.1 695.2L1303.6 647.2L1303.6 600.2L1303.9 676.5L1303.9 609.0L1304.1 658.7L1304.2 669.0L1304.7 642.6L1305.1 619.5L1305.2 637.9L1305.4 660.0L1305.8 631.3L1305.9 622.0L1306.1 664.7L1306.3 617.8L1306.4 640.0L1306.6 667.5L1306.9 654.4L1307.3 679.8L1307.4 608.0L1307.6 690.8L1307.8 662.1L1308.1 601.0L1308.2 657.5L1308.4 674.1L1308.4 599.3L1308.7 667.5L1308.7 633.8L1309.1 628.2L1309.5 622.5L1309.6 592.5L1309.9 666.0L1310.0 636.3L1310.4 588.2L1310.6 659.0L1310.6 627.1L1311.1 629.6L1311.4 627.4L1311.9 588.5L1312.0 633.1L1312.1 645.0L1312.6 625.8L1312.6 580.8L1312.9 642.8L1313.0 628.3L1313.6 625.2L1314.1 630.1L1314.7 622.6L1314.9 589.0L1315.1 636.0L1315.2 627.7L1315.6 621.6L1316.1 630.6L1316.6 631.1L1316.7 610.0L1316.9 642.8L1317.2 633.5L1317.7 628.5L1318.3 634.4L1318.6 605.5L1318.7 625.5L1318.9 650.2L1319.1 630.7L1319.7 620.8L1320.3 624.6L1320.6 598.0L1320.6 617.0L1320.8 651.7L1321.0 615.9L1321.6 600.9L1321.6 568.8L1321.9 652.5L1322.3 620.1L1322.7 615.9L1323.1 589.0L1323.2 631.3L1323.4 653.8L1323.5 623.3L1324.1 625.2L1324.5 615.1L1324.6 602.5L1324.9 656.7L1325.0 612.0L1325.1 595.6L1325.3 663.8L1325.7 607.4L1326.3 639.4L1326.8 632.6L1326.9 568.0L1327.1 657.2L1327.3 631.9L1327.9 611.6L1328.4 568.0L1328.4 611.2L1328.6 658.5L1329.0 620.6L1329.7 650.5L1329.9 571.8L1330.1 653.5L1330.1 619.5L1330.5 625.5L1330.6 578.6L1330.9 609.8L1330.9 651.0L1331.2 607.2L1331.7 588.2L1331.8 588.3L1331.9 651.6L1332.3 600.5L1332.8 601.8L1333.2 615.2L1333.6 601.0L1333.8 618.8L1333.9 652.8L1334.4 600.5L1334.4 625.9L1334.6 653.2L1335.0 629.3L1335.4 637.5L1335.8 632.1L1335.9 599.5L1336.1 649.1L1336.4 638.1L1336.9 635.3L1337.4 604.5L1337.4 641.7L1337.6 645.0L1337.8 639.1L1338.1 607.0L1338.2 644.3L1338.4 644.2L1338.8 633.0L1339.3 632.7L1339.9 622.3L1340.3 621.9L1340.4 613.0L1340.6 642.0L1340.9 619.1L1341.4 624.0L1341.4 610.9L1341.7 648.0L1342.0 625.7L1342.3 609.1L1342.5 636.2L1342.6 676.5L1342.6 608.5L1342.9 668.8L1342.9 627.4L1343.4 608.5L1343.5 618.0L1343.6 649.5L1344.1 609.8L1344.7 627.0L1344.9 608.5L1345.1 649.5L1345.2 620.6L1345.6 601.0L1345.7 620.6L1345.9 649.6L1346.1 615.7L1346.8 617.2L1347.4 618.5L1347.8 634.8L1347.9 608.5L1348.1 650.1L1348.3 638.7L1348.6 615.5L1348.9 650.2L1349.0 642.0L1349.5 636.9L1349.9 638.9L1350.1 629.5L1350.4 647.0L1350.4 636.7L1351.0 636.5L1351.5 635.4L1351.6 628.3L1351.9 656.2L1352.0 637.5L1352.5 631.6L1353.0 632.0L1353.6 631.8L1353.9 626.5L1354.1 634.1L1354.1 639.0L1354.6 635.4L1355.2 642.2L1355.9 643.8L1356.3 645.7L1356.9 635.5L1357.0 644.1L1357.1 649.5L1357.3 646.9L1357.6 635.9L1357.9 663.8L1357.9 646.2L1358.4 648.5L1358.9 651.4L1359.5 657.1L1359.9 637.0L1360.1 648.1L1360.1 660.0L1360.5 650.0L1360.9 646.8L1361.4 641.0L1361.4 660.6L1361.6 681.0L1362.0 663.1L1362.1 643.0L1362.4 680.2L1362.5 671.5L1362.9 643.0L1363.0 659.9L1363.1 685.5L1363.4 653.9L1363.9 648.4L1364.4 662.0L1365.0 673.1L1365.1 643.0L1365.4 677.2L1365.5 663.6L1365.9 636.4L1366.0 644.4L1366.1 676.5L1366.6 649.1L1367.2 631.3L1367.4 583.8L1367.6 672.8L1367.8 632.0L1368.2 633.2L1368.6 635.6L1368.9 610.0L1369.0 623.5L1369.1 669.0L1369.6 635.1L1370.1 636.2L1370.4 590.5L1370.6 658.5L1370.6 669.0L1371.0 645.7L1371.1 594.4L1371.4 628.3L1371.4 669.0L1371.9 592.8L1372.2 577.0L1372.3 584.0L1372.3 613.2L1372.4 687.4L1372.6 694.5L1372.8 638.9L1373.2 660.1L1373.4 606.1L1373.6 667.5L1373.7 637.5L1374.1 610.0L1374.1 632.4L1374.4 663.8L1374.7 620.1L1374.9 611.0L1375.0 632.8L1375.1 660.0L1375.6 635.0L1376.0 645.1L1376.4 613.0L1376.4 649.9L1376.6 658.7L1377.1 655.4L1377.5 645.1L1377.6 615.8L1377.8 667.5L1378.0 640.0L1378.5 626.0L1378.6 618.2L1378.9 656.8L1378.9 634.8L1379.3 632.5L1379.9 641.0L1380.1 626.8L1380.4 655.5L1380.4 632.2L1380.9 631.0L1381.0 633.3L1381.1 654.6L1381.3 627.4L1381.8 628.5L1382.2 626.5L1382.4 614.0L1382.6 663.0L1382.7 624.4L1383.1 609.4L1383.1 605.5L1383.4 652.1L1383.7 609.7L1384.2 612.8L1384.7 620.7L1385.2 612.1L1385.4 573.2L1385.6 649.5L1385.9 624.9L1386.5 632.3L1386.9 613.0L1387.0 632.1L1387.1 654.0L1387.6 629.5L1388.3 633.7L1388.4 626.0L1388.6 658.5L1388.7 633.3L1389.0 642.3L1389.1 632.5L1389.4 657.8L1389.4 642.8L1389.8 645.8L1390.5 647.7L1391.0 656.4L1391.4 583.0L1391.5 636.4L1391.6 663.8L1391.8 634.4L1392.4 603.3L1392.6 530.5L1392.8 654.3L1392.8 610.4L1393.4 605.5L1393.8 609.4L1394.1 565.0L1394.3 607.2L1394.3 652.8L1394.4 567.7L1394.6 652.5L1394.9 625.3L1395.5 620.8L1395.9 581.5L1396.1 656.0L1396.1 631.2L1396.6 612.8L1396.6 582.8L1396.9 657.8L1397.2 606.2L1397.7 594.7L1398.4 608.5L1398.6 558.2L1398.8 657.3L1399.0 611.7L1399.4 630.5L1399.6 587.8L1399.9 633.7L1399.9 657.0L1400.3 637.3L1400.4 589.0L1400.6 658.9L1400.7 617.9L1400.8 593.1L1401.1 660.0L1401.1 624.1L1401.5 614.1L1401.9 602.5L1402.1 624.4L1402.1 690.8L1402.5 611.4L1402.9 605.4L1403.1 620.0L1403.2 657.0L1403.7 593.5L1403.7 608.4L1403.9 655.1L1404.1 622.9L1404.1 606.2L1404.4 654.0L1404.5 621.5L1404.9 624.8L1405.3 616.6L1405.6 613.0L1405.9 648.0L1406.0 619.3L1406.4 619.1L1407.0 623.7L1407.1 618.0L1407.3 623.9L1407.4 642.0L1407.8 628.1L1407.9 620.5L1408.1 640.5L1408.2 624.2L1408.7 627.6L1409.2 624.0L1409.7 625.0L1410.1 622.6L1410.8 627.7L1410.9 617.0L1411.1 634.5L1411.2 629.2L1411.9 634.5L1412.3 628.0L1412.4 615.2L1412.6 635.6L1412.9 625.2L1413.6 617.9L1413.9 614.9L1414.1 636.8L1414.2 625.3L1414.8 634.7L1415.3 637.9L1415.4 614.5L1415.6 641.5L1415.8 627.0L1416.4 623.0L1416.8 623.5L1417.3 638.4L1417.6 578.2L1417.9 648.8L1417.9 641.5L1418.3 645.1L1418.7 637.0L1419.1 638.5L1419.1 605.5L1419.4 651.2L1419.7 630.0L1419.9 604.5L1420.1 652.5L1420.2 644.7L1420.7 648.5L1421.1 602.9L1421.1 651.5L1421.3 654.0L1421.4 602.5L1421.6 660.9L1421.8 646.8L1422.1 597.8L1422.2 656.8L1422.4 678.0L1422.8 634.4L1423.2 591.3L1423.3 632.3L1423.4 648.0L1423.9 622.9L1424.3 626.2L1424.4 583.8L1424.6 645.0L1424.8 614.6L1425.2 622.6L1425.7 615.1L1426.4 618.8L1426.6 581.5L1426.9 646.7L1427.0 606.5L1427.4 586.4L1427.4 613.7L1427.6 647.2L1427.8 604.1L1428.1 571.8L1428.4 603.0L1428.4 651.2L1428.9 609.0L1429.3 618.4L1429.6 601.0L1429.6 611.7L1429.9 659.1L1430.1 614.7L1430.4 592.0L1430.6 606.6L1430.6 663.0L1431.1 614.7L1431.1 583.0L1431.4 662.6L1431.5 601.4L1432.0 604.1L1432.2 545.5L1432.4 662.0L1432.5 596.5L1433.0 610.2L1433.4 577.4L1433.6 607.4L1433.6 672.0L1434.0 613.8L1434.1 575.5L1434.4 660.9L1434.4 606.0L1434.9 630.0L1435.5 631.1L1435.6 584.5L1435.9 660.0L1436.0 651.2L1436.5 625.4L1436.7 555.2L1436.9 663.8L1437.1 620.1L1437.6 618.5L1437.9 598.0L1438.0 631.4L1438.1 668.2L1438.4 632.3L1438.6 602.5L1438.9 668.0L1439.1 653.8L1439.5 643.3L1439.9 643.1L1440.4 638.3L1440.9 635.5L1441.0 645.1L1441.1 667.0L1441.6 642.4L1441.6 636.0L1441.9 666.8L1442.2 655.2L1442.7 655.8L1443.1 654.8L1443.1 637.0L1443.4 662.2L1443.5 648.1L1443.9 627.5L1444.0 641.8L1444.1 660.0L1444.6 628.4L1445.0 627.8L1445.4 608.5L1445.4 617.8L1445.6 659.6L1446.1 624.4L1446.1 606.1L1446.4 674.2L1446.5 622.0L1447.0 624.5L1447.4 618.3L1448.0 628.5L1448.4 598.8L1448.6 622.7L1448.6 658.7L1449.0 637.2L1449.1 599.2L1449.4 658.5L1449.6 629.5L1450.2 646.2L1450.6 640.6L1450.6 600.2L1450.9 661.9L1451.1 641.1L1451.7 627.6L1452.1 608.8L1452.3 627.3L1452.4 665.2L1452.7 616.1L1452.9 613.0L1453.1 665.2L1453.2 626.1L1453.7 627.0L1454.1 636.0L1454.7 638.3L1455.1 642.9L1455.1 628.0L1455.4 665.2L1455.6 635.9L1456.0 640.7L1456.5 635.7L1457.0 640.5L1457.4 626.5L1457.6 670.3L1457.6 653.6L1458.1 630.0L1458.2 671.9L1458.4 672.0L1458.7 661.5L1459.1 658.3L1459.3 635.6L1459.5 647.1L1459.6 675.0L1459.6 637.0L1459.9 680.1L1460.2 660.7L1460.4 632.2L1460.5 654.7L1460.6 693.0L1461.2 653.2L1461.4 609.5L1461.6 602.5L1461.6 629.3L1461.7 675.0L1461.8 674.8L1462.1 645.7L1462.6 617.8L1462.7 639.8L1462.9 673.5L1463.2 646.2L1463.4 613.0L1463.6 669.0L1463.8 639.5L1464.3 647.8L1464.7 638.4L1464.9 594.2L1465.1 660.0L1465.2 647.2L1465.6 633.8L1465.9 575.9L1466.2 675.0L1466.2 633.5L1466.4 568.0L1466.6 693.0L1466.8 580.4L1466.8 548.2L1467.1 711.0L1467.1 535.0L1467.3 605.4L1467.4 703.0L1467.7 541.2L1467.7 620.7L1468.0 687.0L1468.2 673.0L1468.6 550.6L1468.9 671.9L1468.9 690.0L1469.3 665.0L1469.4 524.5L1469.6 687.0L1469.8 639.5L1470.2 656.0L1470.4 569.3L1470.7 698.2L1470.8 633.1L1470.9 574.0L1471.1 683.8L1471.2 645.6L1471.8 629.5L1472.2 637.3L1472.4 625.0L1472.6 675.0L1472.7 633.8L1473.2 646.8L1473.8 642.3L1474.2 634.9L1474.3 651.3L1474.4 681.0L1474.6 647.0L1475.0 654.1L1475.4 641.5L1475.6 674.0L1475.6 652.8L1476.2 661.5L1476.7 662.6L1476.9 642.0L1477.1 667.6L1477.1 673.5L1477.5 654.3L1478.1 647.0L1478.5 643.7L1479.0 651.8L1479.6 649.9L1479.9 643.0L1480.1 654.0L1480.1 650.1L1480.7 648.4L1481.1 650.1L1481.8 648.2L1482.2 648.7L1482.8 645.4L1482.9 642.3L1483.1 658.5L1483.3 646.6L1483.6 636.2L1483.8 643.3L1483.9 658.8L1484.2 651.7L1484.7 652.9L1485.1 657.5L1485.7 656.0L1486.2 656.1L1486.6 641.5L1486.7 652.7L1486.9 660.0L1487.2 653.2L1487.6 649.8L1488.2 656.8L1488.6 657.4L1488.9 637.0L1489.1 657.8L1489.1 662.8L1489.5 652.4L1489.6 637.6L1489.9 663.8L1490.0 652.1L1490.5 647.2L1490.9 646.2L1491.3 649.5L1491.7 659.4L1491.9 639.2L1492.1 670.5L1492.2 663.7L1492.6 634.9L1492.7 661.7L1492.9 672.8L1493.3 651.1L1493.8 648.3L1494.4 646.6L1494.8 652.9L1494.9 622.0L1495.1 671.2L1495.3 647.5L1495.9 646.8L1496.2 634.8L1496.7 647.5L1497.1 645.1L1497.7 656.1L1497.9 607.8L1498.1 650.7L1498.1 667.2L1498.6 657.9L1498.9 650.8L1499.4 622.0L1499.5 657.5L1499.6 665.2L1500.1 622.0L1500.2 648.9L1500.4 663.9L1500.8 653.0L1501.2 646.8L1501.7 649.8L1502.1 645.1L1502.4 606.2L1502.6 660.0L1502.7 638.1L1503.1 601.0L1503.2 623.2L1503.4 658.9L1503.8 633.5L1504.4 642.3L1504.9 650.7L1505.4 596.5L1505.5 622.9L1505.6 655.5L1506.1 614.6L1506.6 600.1L1506.9 608.1L1507.3 603.3L1507.6 593.5L1507.9 658.6L1507.9 623.9L1508.5 616.9L1509.1 625.8L1509.1 593.2L1509.4 660.8L1509.4 593.2L1509.5 622.2L1509.7 660.9L1510.1 640.5L1510.6 594.7L1510.6 641.4L1510.9 661.5L1511.0 656.6L1511.4 653.0L1511.7 595.9L1511.9 681.8L1511.9 664.8L1512.1 596.5L1512.4 672.4L1512.6 641.5L1512.7 598.6L1513.0 660.0L1513.2 643.1L1513.6 626.6L1513.6 601.8L1513.9 660.0L1514.0 635.6L1514.4 632.1L1514.9 643.4L1515.1 607.0L1515.4 661.3L1515.5 642.6L1516.1 651.5L1516.2 618.2L1516.4 673.5L1516.7 640.9L1517.3 645.8L1517.4 631.0L1517.6 663.2L1517.7 642.8L1518.3 645.6L1518.7 641.1L1518.9 629.1L1519.1 664.5L1519.4 644.4L1519.9 639.9L1520.4 641.0L1520.9 626.5L1520.9 639.0L1521.1 664.9L1521.6 643.1L1521.9 637.4L1522.3 645.9L1522.4 626.3L1522.6 665.2L1522.8 641.8L1523.3 647.8L1523.7 643.3L1523.9 619.8L1524.1 646.0L1524.1 661.5L1524.5 642.5L1525.0 642.7L1525.4 625.9L1525.5 637.4L1525.6 657.8L1525.9 638.8L1526.5 636.1L1526.9 625.8L1527.0 638.2L1527.1 651.4L1527.6 634.2L1528.1 635.6L1528.4 625.0L1528.6 632.0L1528.6 645.0L1529.0 635.8L1529.4 632.5L1530.0 636.7L1530.6 633.8L1531.0 636.9L1531.4 623.5L1531.5 633.9L1531.6 650.4L1532.0 639.5L1532.1 622.8L1532.4 651.8L1532.6 635.7L1533.2 640.9L1533.8 635.8L1534.3 635.5L1534.6 632.2L1535.0 633.9L1535.1 619.8L1535.4 649.4L1535.6 631.9L1535.9 619.2L1536.1 648.8L1536.1 637.9L1536.6 633.7L1537.3 641.2L1537.7 637.4L1538.1 617.5L1538.2 641.4L1538.4 654.9L1538.6 636.2L1538.9 614.3L1539.1 641.5L1539.1 657.0L1539.2 613.0L1539.4 657.3L1539.5 628.1L1539.9 619.3L1540.1 550.0L1540.3 658.2L1540.4 597.1L1540.7 615.5L1541.0 613.0L1541.1 613.8L1541.2 659.1L1541.3 621.2L1541.4 659.2L1541.9 617.5L1542.0 629.0L1542.1 655.7L1542.5 625.4L1543.1 631.0L1543.7 626.8L1544.1 619.2L1544.2 627.4L1544.4 645.0L1544.6 622.4L1544.9 619.8L1545.0 623.6L1545.1 644.2L1545.5 623.3L1545.8 626.0L1546.3 623.9L1546.7 629.4L1547.1 619.0L1547.1 625.8L1547.4 650.2L1547.5 624.6L1548.0 615.2L1548.4 617.3L1548.9 620.7L1549.4 626.1L1549.8 618.8L1550.1 596.5L1550.4 639.0L1550.4 614.8L1550.8 602.7L1550.9 591.8L1551.1 638.2L1551.5 599.2L1551.9 598.7L1552.4 582.2L1552.5 618.4L1552.6 638.4L1553.0 622.5L1553.5 638.5L1554.0 623.9L1554.6 620.0L1554.6 585.2L1554.9 649.5L1555.0 607.0L1555.5 612.4L1555.8 604.4L1556.4 616.5L1556.9 613.4L1556.9 578.5L1557.1 638.9L1557.4 616.9L1557.6 579.5L1557.9 639.0L1558.0 601.2L1558.6 601.0L1559.1 581.5L1559.2 596.5L1559.4 639.6L1559.6 613.6L1560.2 618.2L1560.6 607.0L1560.6 626.3L1560.9 640.2L1561.2 612.2L1561.4 608.1L1561.6 614.2L1561.6 640.5L1562.1 616.7L1562.5 621.8L1562.9 595.8L1562.9 615.7L1563.1 637.5L1563.5 621.5L1564.0 614.6L1564.5 617.7L1564.7 613.0L1564.9 618.6L1564.9 633.9L1565.1 614.2L1565.4 633.0L1565.4 621.9L1565.8 621.5L1566.2 625.6L1566.6 608.5L1566.8 622.3L1566.9 635.4L1567.3 630.1L1567.9 628.4L1568.1 622.0L1568.4 637.8L1568.5 632.1L1568.9 623.1L1569.0 630.8L1569.1 639.0L1569.6 634.5L1570.2 634.7L1570.8 641.1L1571.1 626.5L1571.2 636.2L1571.4 659.2L1571.8 643.8L1571.9 629.9L1572.1 666.0L1572.2 646.3L1572.8 659.3L1573.2 653.3L1573.8 651.4L1574.1 640.0L1574.4 673.7L1574.4 637.7L1574.4 644.9L1574.7 680.2L1574.8 646.0L1575.4 636.7L1575.8 642.3L1576.2 634.5L1576.4 622.8L1576.6 671.1L1576.8 636.6L1577.1 620.7L1577.4 672.0L1577.4 620.3L1578.0 644.5L1578.6 654.5L1579.2 658.5L1579.4 614.5L1579.6 650.8L1579.6 666.9L1580.1 615.0L1580.2 652.6L1580.4 665.2L1580.7 649.9L1581.2 660.5L1581.6 653.6L1582.0 649.1L1582.4 634.9L1582.7 598.0L1582.9 621.2L1582.9 653.1L1583.1 613.6L1583.3 615.5L1583.4 651.0L1583.8 625.0L1584.4 621.0L1585.0 630.1L1585.1 618.2L1585.3 646.6L1585.6 622.3L1586.1 613.5L1586.2 623.0L1586.4 644.2L1586.6 618.3L1587.3 619.5L1587.6 592.0L1587.8 607.3L1587.9 640.1L1588.4 622.3L1589.0 620.3L1589.1 599.9L1589.4 636.0L1589.6 625.6L1589.9 596.5L1590.1 614.6L1590.1 642.9L1590.6 612.8L1591.0 611.7L1591.6 623.4L1591.8 589.0L1592.1 660.8L1592.3 619.0L1592.8 631.9L1592.9 600.8L1593.1 670.5L1593.2 635.5L1593.7 645.2L1594.1 602.5L1594.1 643.4L1594.3 672.1L1594.6 652.7L1595.1 600.6L1595.2 648.5L1595.4 673.5L1595.8 653.0L1596.1 637.9L1596.6 598.0L1596.7 648.6L1596.9 676.5L1597.3 634.4L1597.8 653.8L1598.1 584.0L1598.3 637.8L1598.4 679.5L1598.9 577.0L1598.9 645.3L1599.1 680.2L1599.5 629.3L1599.6 565.2L1599.9 681.0L1599.9 636.9L1600.5 610.0L1600.7 548.8L1600.9 711.8L1601.1 610.7L1601.1 541.8L1601.4 696.0L1601.6 570.9L1601.7 545.7L1602.0 675.0L1602.1 582.3L1602.5 592.1L1602.9 536.5L1603.0 617.6L1603.2 670.6L1603.4 553.5L1603.4 626.8L1603.6 669.0L1603.9 664.7L1604.3 643.1L1604.6 564.5L1604.8 672.0L1604.9 630.5L1604.9 566.5L1605.1 682.7L1605.4 600.6L1605.6 573.5L1605.9 709.5L1605.9 641.7L1606.5 654.3L1606.7 583.3L1606.9 667.5L1607.0 652.0L1607.1 587.5L1607.4 663.8L1607.5 631.3L1607.6 584.5L1607.8 660.0L1608.2 613.2L1608.3 579.5L1608.6 599.8L1608.6 667.5L1608.9 602.7L1609.1 574.5L1609.3 697.5L1609.4 572.5L1609.6 608.5L1609.6 683.7L1609.8 571.6L1610.1 616.7L1610.1 663.0L1610.4 593.8L1610.9 601.9L1610.9 569.5L1611.1 657.0L1611.4 579.8L1611.6 568.0L1611.9 673.5L1612.0 596.1L1612.4 565.7L1612.4 582.3L1612.6 690.0L1612.9 632.0L1613.4 562.5L1613.6 562.0L1613.6 676.8L1613.7 725.2L1613.8 721.3L1614.0 710.4L1614.5 553.0L1614.6 632.9L1614.6 551.5L1614.7 697.5L1614.9 697.8L1615.1 612.1L1615.5 577.5L1615.7 568.0L1615.9 699.8L1616.1 621.7L1616.5 613.1L1616.9 580.0L1616.9 651.7L1617.1 695.3L1617.4 642.9L1617.9 584.9L1618.0 663.4L1618.2 710.2L1618.4 641.2L1618.8 643.9L1619.1 590.5L1619.4 687.0L1619.4 631.7L1619.9 589.8L1620.0 636.8L1620.1 682.5L1620.5 621.0L1621.0 639.2L1621.4 588.2L1621.5 614.8L1621.6 693.0L1622.0 630.3L1622.1 590.0L1622.4 698.2L1622.6 615.3L1623.2 609.1L1623.3 592.8L1623.6 699.0L1623.6 593.5L1623.7 612.4L1623.9 713.4L1624.1 633.3L1624.4 595.4L1624.6 749.2L1624.7 636.9L1625.2 650.2L1625.4 598.0L1625.6 623.0L1625.7 675.0L1626.0 629.6L1626.2 599.9L1626.4 660.0L1626.5 622.3L1626.6 601.0L1626.9 644.2L1627.1 616.6L1627.4 600.4L1627.6 618.0L1627.7 607.6L1628.2 609.2L1628.7 606.5L1629.1 607.5L1629.5 604.0L1630.1 602.9L1630.4 598.0L1630.6 618.0L1630.7 598.1L1631.1 599.3L1631.4 595.8L1632.0 598.7L1632.4 597.3L1632.9 595.9L1633.4 583.0L1633.5 584.8L1633.6 618.0L1633.9 590.7L1634.4 581.8L1634.8 596.5L1634.9 581.0L1635.1 673.5L1635.2 612.3L1635.6 580.0L1635.8 656.2L1635.9 680.5L1636.2 641.1L1636.8 666.2L1637.1 579.5L1637.3 650.9L1637.4 694.5L1637.7 653.7L1637.9 579.2L1638.1 693.9L1638.2 657.2L1638.6 676.5L1639.2 668.8L1639.6 692.7L1640.1 595.0L1640.2 677.7L1640.4 692.2L1640.7 675.6L1641.1 640.9L1641.6 649.4L1642.1 642.3L1642.4 595.6L1642.6 662.2L1642.7 651.3L1643.1 590.5L1643.1 639.7L1643.4 656.4L1643.6 636.0L1643.9 621.2L1644.5 611.2L1645.0 601.2L1645.4 596.5L1645.6 600.4L1645.6 639.0L1646.0 597.7L1646.7 615.1L1647.1 611.2L1647.5 624.0L1647.6 592.3L1647.9 657.0L1648.1 615.6L1648.1 584.5L1648.3 657.6L1648.5 628.9L1649.0 630.2L1649.3 637.6L1649.8 627.3L1649.9 591.4L1650.1 660.0L1650.2 640.2L1650.6 590.5L1650.7 639.2L1650.9 683.0L1650.9 591.8L1651.2 692.2L1651.4 630.1L1651.9 610.8L1652.0 596.3L1652.2 660.0L1652.4 603.0L1652.6 580.8L1652.8 659.0L1652.9 592.0L1652.9 590.9L1653.1 658.5L1653.4 613.4L1653.9 612.0L1654.6 622.4L1655.0 626.8L1655.1 610.0L1655.4 656.5L1655.7 635.5L1656.3 634.8L1656.6 590.0L1656.8 646.1L1656.9 666.8L1657.3 632.5L1657.4 580.0L1657.6 654.5L1657.9 646.3L1658.4 632.6L1659.1 635.9L1659.6 618.6L1659.6 571.8L1659.9 652.5L1660.1 626.3L1660.5 611.5L1661.1 604.9L1661.5 595.0L1661.9 580.0L1662.0 610.8L1662.1 658.1L1662.4 601.2L1662.6 582.2L1662.9 660.0L1663.1 614.1L1663.6 603.4L1664.1 623.0L1664.6 615.6L1664.9 589.0L1665.1 663.9L1665.2 630.6L1665.6 598.5L1665.8 626.8L1665.9 665.2L1666.1 636.4L1666.6 640.9L1667.0 651.2L1667.1 617.5L1667.4 671.6L1667.6 651.8L1668.1 658.3L1668.6 616.0L1668.7 646.2L1668.9 678.0L1669.3 649.2L1669.4 596.5L1669.6 678.6L1669.8 639.9L1670.2 662.6L1670.6 614.0L1670.7 661.8L1670.8 679.5L1671.2 674.3L1671.6 613.0L1671.9 651.4L1671.9 724.5L1672.4 642.1L1672.5 610.0L1672.8 667.5L1672.8 625.9L1673.1 608.0L1673.3 623.9L1673.4 660.0L1673.7 618.2L1673.9 605.5L1674.1 655.9L1674.3 619.3L1675.0 614.0L1675.4 620.1L1675.4 592.8L1675.6 647.6L1675.9 614.6L1676.1 593.0L1676.4 643.5L1676.4 615.8L1676.9 606.0L1677.4 618.3L1677.6 593.5L1677.9 641.7L1678.0 613.8L1678.4 568.0L1678.4 618.7L1678.6 640.8L1678.9 597.6L1679.1 499.0L1679.4 639.9L1679.4 593.3L1679.9 556.5L1679.9 590.0L1680.0 568.0L1680.1 639.0L1680.3 639.0L1680.3 604.7L1680.7 592.6L1681.1 574.0L1681.1 594.2L1681.3 638.8L1681.7 577.9L1682.2 579.1L1682.6 568.0L1682.6 574.2L1682.8 638.5L1683.1 587.0L1683.6 577.2L1683.6 522.2L1683.9 638.4L1684.2 612.6L1684.4 560.3L1684.6 638.2L1684.7 575.5L1684.8 611.1L1684.9 638.7L1685.2 614.3L1685.8 604.1L1685.9 592.0L1686.1 640.6L1686.3 613.7L1686.9 608.1L1687.3 618.2L1687.7 605.5L1687.8 619.0L1687.9 643.5L1688.1 595.9L1688.3 620.4L1688.4 644.2L1688.7 583.0L1688.8 612.6L1689.0 662.0L1689.2 609.4L1689.6 548.5L1689.8 600.8L1689.9 688.8L1690.4 583.5L1690.5 649.4L1690.5 590.5L1690.6 711.0L1690.8 711.5L1691.1 649.9L1691.6 601.0L1691.7 649.6L1691.8 714.9L1692.1 627.9L1692.7 656.8L1693.3 649.3L1693.4 598.9L1693.6 720.8L1693.8 666.0L1694.1 598.0L1694.4 721.9L1694.4 641.1L1694.9 597.2L1695.0 657.5L1695.1 723.0L1695.6 641.6L1695.9 596.2L1696.1 653.5L1696.2 775.2L1696.7 595.5L1696.7 614.1L1696.9 675.0L1697.1 595.0L1697.3 620.0L1697.4 660.0L1697.9 622.4L1698.3 631.8L1698.7 624.2L1699.1 596.2L1699.3 631.2L1699.3 657.8L1699.8 620.6L1700.3 623.3L1700.9 597.2L1700.9 625.0L1701.1 668.9L1701.2 634.2L1701.6 597.5L1701.7 632.3L1701.9 673.5L1702.1 644.7L1702.7 647.3L1703.2 658.9L1703.8 666.7L1703.9 598.2L1704.1 675.8L1704.3 670.4L1704.6 592.8L1704.8 629.9L1704.9 677.2L1705.1 597.6L1705.2 616.9L1705.3 678.0L1705.9 617.1L1706.1 599.0L1706.4 708.8L1706.4 639.0L1706.8 631.4L1707.0 599.3L1707.3 652.5L1707.4 633.1L1707.6 599.5L1707.8 625.8L1707.9 645.0L1708.5 630.1L1709.1 624.8L1709.5 630.7L1709.9 602.9L1709.9 624.6L1710.1 631.5L1710.4 624.2L1710.6 604.0L1710.8 622.0L1710.9 632.6L1711.3 626.3L1711.8 623.5L1712.3 626.3L1712.8 625.6L1712.9 607.9L1713.1 636.0L1713.2 634.1L1713.6 609.2L1713.8 635.8L1713.9 642.0L1714.3 644.8L1714.6 638.9L1715.1 621.8L1715.3 641.4L1715.4 654.0L1715.6 640.7L1715.9 628.0L1716.1 654.9L1716.2 651.5L1716.7 648.8L1717.3 635.1L1717.4 611.5L1717.6 656.6L1717.8 619.9L1718.1 610.6L1718.3 641.1L1718.4 683.2L1718.7 631.7L1719.3 635.7L1719.8 626.4L1720.2 629.2L1720.4 607.8L1720.6 660.0L1720.6 621.3L1721.1 596.5L1721.1 611.1L1721.4 662.4L1721.7 605.3L1722.3 626.1L1722.6 604.9L1722.9 681.8L1722.9 634.0L1723.4 604.0L1723.5 640.6L1723.6 669.4L1724.0 643.2L1724.5 654.2L1725.0 647.3L1725.6 606.2L1725.7 657.1L1725.9 676.5L1726.1 656.2L1726.4 607.0L1726.6 668.1L1726.6 676.1L1727.0 663.2L1727.5 669.1L1727.9 665.1L1728.3 675.2L1728.6 608.5L1728.8 662.5L1728.9 675.0L1729.3 661.1" fill="none" stroke="#ff0000" stroke-width="2.08" stroke-linejoin="round"/>
</g>
<line x1="1729.4" y1="822" x2="1729.4" y2="478" stroke="#000" stroke-width="2.78" stroke-dasharray="2.78 4.58"/>
<line x1="1800" y1="478" x2="1800" y2="823" stroke="#ff0000" stroke-width="2"/>
<line x1="1269.5" y1="822" x2="1269.5" y2="816.7" stroke="#000" stroke-width="1.2"/>
<line x1="1341.5" y1="822" x2="1341.5" y2="816.7" stroke="#000" stroke-width="1.2"/>
<line x1="1412.5" y1="822" x2="1412.5" y2="816.7" stroke="#000" stroke-width="1.2"/>
<line x1="1483.5" y1="822" x2="1483.5" y2="816.7" stroke="#000" stroke-width="1.2"/>
<line x1="1554.5" y1="822" x2="1554.5" y2="816.7" stroke="#000" stroke-width="1.2"/>
<line x1="1625.5" y1="822" x2="1625.5" y2="816.7" stroke="#000" stroke-width="1.2"/>
<line x1="1696.5" y1="822" x2="1696.5" y2="816.7" stroke="#000" stroke-width="1.2"/>
<line x1="1767.5" y1="822" x2="1767.5" y2="816.7" stroke="#000" stroke-width="1.2"/>
<line x1="1231" y1="787.5" x2="1236.3" y2="787.5" stroke="#000" stroke-width="1.2"/>
<text x="1225.7" y="794.8" font-size="19.9" text-anchor="end" fill="#000">&#8722;400</text>
<line x1="1231" y1="718.5" x2="1236.3" y2="718.5" stroke="#000" stroke-width="1.2"/>
<text x="1225.7" y="726" font-size="19.9" text-anchor="end" fill="#000">&#8722;300</text>
<line x1="1231" y1="650.5" x2="1236.3" y2="650.5" stroke="#000" stroke-width="1.2"/>
<text x="1225.7" y="657.2" font-size="19.9" text-anchor="end" fill="#000">&#8722;200</text>
<line x1="1231" y1="581.5" x2="1236.3" y2="581.5" stroke="#000" stroke-width="1.2"/>
<text x="1225.7" y="588.4" font-size="19.9" text-anchor="end" fill="#000">&#8722;100</text>
<line x1="1231" y1="512.5" x2="1236.3" y2="512.5" stroke="#000" stroke-width="1.2"/>
<text x="1225.7" y="519.6" font-size="19.9" text-anchor="end" fill="#000">0</text>
<text x="1804.9" y="829.6" font-size="19.9" text-anchor="start" fill="#ff0000">10<tspan font-size="13.93" dy="-7.22">&#8722;2</tspan></text>
<line x1="1800" y1="796.5" x2="1797.2" y2="796.5" stroke="#ff0000" stroke-width="1.1"/>
<line x1="1800" y1="780.5" x2="1797.2" y2="780.5" stroke="#ff0000" stroke-width="1.1"/>
<line x1="1800" y1="770.5" x2="1797.2" y2="770.5" stroke="#ff0000" stroke-width="1.1"/>
<line x1="1800" y1="761.5" x2="1797.2" y2="761.5" stroke="#ff0000" stroke-width="1.1"/>
<line x1="1800" y1="755.5" x2="1797.2" y2="755.5" stroke="#ff0000" stroke-width="1.1"/>
<line x1="1800" y1="749.5" x2="1797.2" y2="749.5" stroke="#ff0000" stroke-width="1.1"/>
<line x1="1800" y1="744.5" x2="1797.2" y2="744.5" stroke="#ff0000" stroke-width="1.1"/>
<line x1="1800" y1="739.5" x2="1797.2" y2="739.5" stroke="#ff0000" stroke-width="1.1"/>
<line x1="1800" y1="736.5" x2="1794.7" y2="736.5" stroke="#ff0000" stroke-width="1.2"/>
<text x="1804.9" y="743.6" font-size="19.9" text-anchor="start" fill="#ff0000">10<tspan font-size="13.93" dy="-7.22">&#8722;1</tspan></text>
<line x1="1800" y1="710.5" x2="1797.2" y2="710.5" stroke="#ff0000" stroke-width="1.1"/>
<line x1="1800" y1="694.5" x2="1797.2" y2="694.5" stroke="#ff0000" stroke-width="1.1"/>
<line x1="1800" y1="684.5" x2="1797.2" y2="684.5" stroke="#ff0000" stroke-width="1.1"/>
<line x1="1800" y1="675.5" x2="1797.2" y2="675.5" stroke="#ff0000" stroke-width="1.1"/>
<line x1="1800" y1="669.5" x2="1797.2" y2="669.5" stroke="#ff0000" stroke-width="1.1"/>
<line x1="1800" y1="663.5" x2="1797.2" y2="663.5" stroke="#ff0000" stroke-width="1.1"/>
<line x1="1800" y1="658.5" x2="1797.2" y2="658.5" stroke="#ff0000" stroke-width="1.1"/>
<line x1="1800" y1="653.5" x2="1797.2" y2="653.5" stroke="#ff0000" stroke-width="1.1"/>
<line x1="1800" y1="650.5" x2="1794.7" y2="650.5" stroke="#ff0000" stroke-width="1.2"/>
<text x="1804.9" y="657.6" font-size="19.9" text-anchor="start" fill="#ff0000">10<tspan font-size="13.93" dy="-7.22">0</tspan></text>
<line x1="1800" y1="624.5" x2="1797.2" y2="624.5" stroke="#ff0000" stroke-width="1.1"/>
<line x1="1800" y1="608.5" x2="1797.2" y2="608.5" stroke="#ff0000" stroke-width="1.1"/>
<line x1="1800" y1="598.5" x2="1797.2" y2="598.5" stroke="#ff0000" stroke-width="1.1"/>
<line x1="1800" y1="589.5" x2="1797.2" y2="589.5" stroke="#ff0000" stroke-width="1.1"/>
<line x1="1800" y1="583.5" x2="1797.2" y2="583.5" stroke="#ff0000" stroke-width="1.1"/>
<line x1="1800" y1="577.5" x2="1797.2" y2="577.5" stroke="#ff0000" stroke-width="1.1"/>
<line x1="1800" y1="572.5" x2="1797.2" y2="572.5" stroke="#ff0000" stroke-width="1.1"/>
<line x1="1800" y1="567.5" x2="1797.2" y2="567.5" stroke="#ff0000" stroke-width="1.1"/>
<line x1="1800" y1="564.5" x2="1794.7" y2="564.5" stroke="#ff0000" stroke-width="1.2"/>
<text x="1804.9" y="571.6" font-size="19.9" text-anchor="start" fill="#ff0000">10<tspan font-size="13.93" dy="-7.22">1</tspan></text>
<line x1="1800" y1="538.5" x2="1797.2" y2="538.5" stroke="#ff0000" stroke-width="1.1"/>
<line x1="1800" y1="522.5" x2="1797.2" y2="522.5" stroke="#ff0000" stroke-width="1.1"/>
<line x1="1800" y1="512.5" x2="1797.2" y2="512.5" stroke="#ff0000" stroke-width="1.1"/>
<line x1="1800" y1="503.5" x2="1797.2" y2="503.5" stroke="#ff0000" stroke-width="1.1"/>
<line x1="1800" y1="497.5" x2="1797.2" y2="497.5" stroke="#ff0000" stroke-width="1.1"/>
<line x1="1800" y1="491.5" x2="1797.2" y2="491.5" stroke="#ff0000" stroke-width="1.1"/>
<line x1="1800" y1="486.5" x2="1797.2" y2="486.5" stroke="#ff0000" stroke-width="1.1"/>
<line x1="1800" y1="481.5" x2="1797.2" y2="481.5" stroke="#ff0000" stroke-width="1.1"/>
<text x="1804.9" y="485.6" font-size="19.9" text-anchor="start" fill="#ff0000">10<tspan font-size="13.93" dy="-7.22">2</tspan></text>
<path d="M1801 478H1231V822H1801" fill="none" stroke="#000" stroke-width="2.0" stroke-linejoin="miter"/>
<text transform="translate(1132,672.5) rotate(-90)" font-size="24" text-anchor="start" fill="#000">Dst</text>
<text transform="translate(1159.1,650.4) rotate(-90)" font-size="24" text-anchor="middle" fill="#000">( nT )</text>
<text transform="translate(1874.7,726.4) rotate(-90)" font-size="24" text-anchor="start" fill="#ff0000">SW Pressure</text>
<text transform="translate(1907,650.9) rotate(-90)" font-size="24" text-anchor="middle" fill="#ff0000">( nPa )</text>
<line x1="1231" y1="931" x2="1800" y2="931" stroke="#000" stroke-width="2.08" stroke-dasharray="2.08 3.44"/>
<line x1="1729.4" y1="1017" x2="1729.4" y2="845" stroke="#000" stroke-width="2.78" stroke-dasharray="2.78 4.58"/>
<line x1="1269.5" y1="1017" x2="1269.5" y2="1011.7" stroke="#000" stroke-width="1.2"/>
<line x1="1341.5" y1="1017" x2="1341.5" y2="1011.7" stroke="#000" stroke-width="1.2"/>
<line x1="1412.5" y1="1017" x2="1412.5" y2="1011.7" stroke="#000" stroke-width="1.2"/>
<line x1="1483.5" y1="1017" x2="1483.5" y2="1011.7" stroke="#000" stroke-width="1.2"/>
<line x1="1554.5" y1="1017" x2="1554.5" y2="1011.7" stroke="#000" stroke-width="1.2"/>
<line x1="1625.5" y1="1017" x2="1625.5" y2="1011.7" stroke="#000" stroke-width="1.2"/>
<line x1="1696.5" y1="1017" x2="1696.5" y2="1011.7" stroke="#000" stroke-width="1.2"/>
<line x1="1767.5" y1="1017" x2="1767.5" y2="1011.7" stroke="#000" stroke-width="1.2"/>
<text x="1225.7" y="1024.6" font-size="19.9" text-anchor="end" fill="#000">10<tspan font-size="13.93" dy="-7.22">&#8722;1</tspan></text>
<line x1="1231" y1="1004.5" x2="1233.8" y2="1004.5" stroke="#000" stroke-width="1.1"/>
<line x1="1800" y1="1004.5" x2="1797.2" y2="1004.5" stroke="#000" stroke-width="1.1"/>
<line x1="1231" y1="996.5" x2="1233.8" y2="996.5" stroke="#000" stroke-width="1.1"/>
<line x1="1800" y1="996.5" x2="1797.2" y2="996.5" stroke="#000" stroke-width="1.1"/>
<line x1="1231" y1="991.5" x2="1233.8" y2="991.5" stroke="#000" stroke-width="1.1"/>
<line x1="1800" y1="991.5" x2="1797.2" y2="991.5" stroke="#000" stroke-width="1.1"/>
<line x1="1231" y1="986.5" x2="1233.8" y2="986.5" stroke="#000" stroke-width="1.1"/>
<line x1="1800" y1="986.5" x2="1797.2" y2="986.5" stroke="#000" stroke-width="1.1"/>
<line x1="1231" y1="983.5" x2="1233.8" y2="983.5" stroke="#000" stroke-width="1.1"/>
<line x1="1800" y1="983.5" x2="1797.2" y2="983.5" stroke="#000" stroke-width="1.1"/>
<line x1="1231" y1="980.5" x2="1233.8" y2="980.5" stroke="#000" stroke-width="1.1"/>
<line x1="1800" y1="980.5" x2="1797.2" y2="980.5" stroke="#000" stroke-width="1.1"/>
<line x1="1231" y1="978.5" x2="1233.8" y2="978.5" stroke="#000" stroke-width="1.1"/>
<line x1="1800" y1="978.5" x2="1797.2" y2="978.5" stroke="#000" stroke-width="1.1"/>
<line x1="1231" y1="975.5" x2="1233.8" y2="975.5" stroke="#000" stroke-width="1.1"/>
<line x1="1800" y1="975.5" x2="1797.2" y2="975.5" stroke="#000" stroke-width="1.1"/>
<line x1="1231" y1="974.5" x2="1236.3" y2="974.5" stroke="#000" stroke-width="1.2"/>
<line x1="1800" y1="974.5" x2="1794.7" y2="974.5" stroke="#000" stroke-width="1.2"/>
<text x="1225.7" y="981.6" font-size="19.9" text-anchor="end" fill="#000">10<tspan font-size="13.93" dy="-7.22">0</tspan></text>
<line x1="1231" y1="961.5" x2="1233.8" y2="961.5" stroke="#000" stroke-width="1.1"/>
<line x1="1800" y1="961.5" x2="1797.2" y2="961.5" stroke="#000" stroke-width="1.1"/>
<line x1="1231" y1="953.5" x2="1233.8" y2="953.5" stroke="#000" stroke-width="1.1"/>
<line x1="1800" y1="953.5" x2="1797.2" y2="953.5" stroke="#000" stroke-width="1.1"/>
<line x1="1231" y1="948.5" x2="1233.8" y2="948.5" stroke="#000" stroke-width="1.1"/>
<line x1="1800" y1="948.5" x2="1797.2" y2="948.5" stroke="#000" stroke-width="1.1"/>
<line x1="1231" y1="943.5" x2="1233.8" y2="943.5" stroke="#000" stroke-width="1.1"/>
<line x1="1800" y1="943.5" x2="1797.2" y2="943.5" stroke="#000" stroke-width="1.1"/>
<line x1="1231" y1="940.5" x2="1233.8" y2="940.5" stroke="#000" stroke-width="1.1"/>
<line x1="1800" y1="940.5" x2="1797.2" y2="940.5" stroke="#000" stroke-width="1.1"/>
<line x1="1231" y1="937.5" x2="1233.8" y2="937.5" stroke="#000" stroke-width="1.1"/>
<line x1="1800" y1="937.5" x2="1797.2" y2="937.5" stroke="#000" stroke-width="1.1"/>
<line x1="1231" y1="935.5" x2="1233.8" y2="935.5" stroke="#000" stroke-width="1.1"/>
<line x1="1800" y1="935.5" x2="1797.2" y2="935.5" stroke="#000" stroke-width="1.1"/>
<line x1="1231" y1="932.5" x2="1233.8" y2="932.5" stroke="#000" stroke-width="1.1"/>
<line x1="1800" y1="932.5" x2="1797.2" y2="932.5" stroke="#000" stroke-width="1.1"/>
<line x1="1231" y1="931.5" x2="1236.3" y2="931.5" stroke="#000" stroke-width="1.2"/>
<line x1="1800" y1="931.5" x2="1794.7" y2="931.5" stroke="#000" stroke-width="1.2"/>
<text x="1225.7" y="938.6" font-size="19.9" text-anchor="end" fill="#000">10<tspan font-size="13.93" dy="-7.22">1</tspan></text>
<line x1="1231" y1="918.5" x2="1233.8" y2="918.5" stroke="#000" stroke-width="1.1"/>
<line x1="1800" y1="918.5" x2="1797.2" y2="918.5" stroke="#000" stroke-width="1.1"/>
<line x1="1231" y1="910.5" x2="1233.8" y2="910.5" stroke="#000" stroke-width="1.1"/>
<line x1="1800" y1="910.5" x2="1797.2" y2="910.5" stroke="#000" stroke-width="1.1"/>
<line x1="1231" y1="905.5" x2="1233.8" y2="905.5" stroke="#000" stroke-width="1.1"/>
<line x1="1800" y1="905.5" x2="1797.2" y2="905.5" stroke="#000" stroke-width="1.1"/>
<line x1="1231" y1="900.5" x2="1233.8" y2="900.5" stroke="#000" stroke-width="1.1"/>
<line x1="1800" y1="900.5" x2="1797.2" y2="900.5" stroke="#000" stroke-width="1.1"/>
<line x1="1231" y1="897.5" x2="1233.8" y2="897.5" stroke="#000" stroke-width="1.1"/>
<line x1="1800" y1="897.5" x2="1797.2" y2="897.5" stroke="#000" stroke-width="1.1"/>
<line x1="1231" y1="894.5" x2="1233.8" y2="894.5" stroke="#000" stroke-width="1.1"/>
<line x1="1800" y1="894.5" x2="1797.2" y2="894.5" stroke="#000" stroke-width="1.1"/>
<line x1="1231" y1="892.5" x2="1233.8" y2="892.5" stroke="#000" stroke-width="1.1"/>
<line x1="1800" y1="892.5" x2="1797.2" y2="892.5" stroke="#000" stroke-width="1.1"/>
<line x1="1231" y1="889.5" x2="1233.8" y2="889.5" stroke="#000" stroke-width="1.1"/>
<line x1="1800" y1="889.5" x2="1797.2" y2="889.5" stroke="#000" stroke-width="1.1"/>
<line x1="1231" y1="888.5" x2="1236.3" y2="888.5" stroke="#000" stroke-width="1.2"/>
<line x1="1800" y1="888.5" x2="1794.7" y2="888.5" stroke="#000" stroke-width="1.2"/>
<text x="1225.7" y="895.6" font-size="19.9" text-anchor="end" fill="#000">10<tspan font-size="13.93" dy="-7.22">2</tspan></text>
<line x1="1231" y1="875.5" x2="1233.8" y2="875.5" stroke="#000" stroke-width="1.1"/>
<line x1="1800" y1="875.5" x2="1797.2" y2="875.5" stroke="#000" stroke-width="1.1"/>
<line x1="1231" y1="867.5" x2="1233.8" y2="867.5" stroke="#000" stroke-width="1.1"/>
<line x1="1800" y1="867.5" x2="1797.2" y2="867.5" stroke="#000" stroke-width="1.1"/>
<line x1="1231" y1="862.5" x2="1233.8" y2="862.5" stroke="#000" stroke-width="1.1"/>
<line x1="1800" y1="862.5" x2="1797.2" y2="862.5" stroke="#000" stroke-width="1.1"/>
<line x1="1231" y1="857.5" x2="1233.8" y2="857.5" stroke="#000" stroke-width="1.1"/>
<line x1="1800" y1="857.5" x2="1797.2" y2="857.5" stroke="#000" stroke-width="1.1"/>
<line x1="1231" y1="854.5" x2="1233.8" y2="854.5" stroke="#000" stroke-width="1.1"/>
<line x1="1800" y1="854.5" x2="1797.2" y2="854.5" stroke="#000" stroke-width="1.1"/>
<line x1="1231" y1="851.5" x2="1233.8" y2="851.5" stroke="#000" stroke-width="1.1"/>
<line x1="1800" y1="851.5" x2="1797.2" y2="851.5" stroke="#000" stroke-width="1.1"/>
<line x1="1231" y1="849.5" x2="1233.8" y2="849.5" stroke="#000" stroke-width="1.1"/>
<line x1="1800" y1="849.5" x2="1797.2" y2="849.5" stroke="#000" stroke-width="1.1"/>
<line x1="1231" y1="846.5" x2="1233.8" y2="846.5" stroke="#000" stroke-width="1.1"/>
<line x1="1800" y1="846.5" x2="1797.2" y2="846.5" stroke="#000" stroke-width="1.1"/>
<text x="1225.7" y="852.6" font-size="19.9" text-anchor="end" fill="#000">10<tspan font-size="13.93" dy="-7.22">3</tspan></text>
<rect x="1231" y="845" width="569" height="172" fill="none" stroke="#000" stroke-width="2.0"/>
<text x="1269.28" y="1037.1" font-size="19.9" text-anchor="middle" fill="#000">12</text>
<text x="1340.4" y="1037.1" font-size="19.9" text-anchor="middle" fill="#000">13</text>
<text x="1411.53" y="1037.1" font-size="19.9" text-anchor="middle" fill="#000">14</text>
<text x="1482.65" y="1037.1" font-size="19.9" text-anchor="middle" fill="#000">15</text>
<text x="1553.78" y="1037.1" font-size="19.9" text-anchor="middle" fill="#000">16</text>
<text x="1624.9" y="1037.1" font-size="19.9" text-anchor="middle" fill="#000">17</text>
<text x="1696.03" y="1037.1" font-size="19.9" text-anchor="middle" fill="#000">18</text>
<text x="1767.15" y="1037.1" font-size="19.9" text-anchor="middle" fill="#000">19</text>
<text x="1511.9" y="1066" font-size="24" text-anchor="middle" fill="#000">March/April</text>
<text x="1515.9" y="1093.5" font-size="24" text-anchor="middle" fill="#000">2025 (UT)</text>
<text transform="translate(1132.6,1058.8) rotate(-90)" font-size="24" text-anchor="start" fill="#000">&gt;10 MeV Proton Flux</text>
<text transform="translate(1165.8,1019.2) rotate(-90)" font-size="24" text-anchor="start" fill="#000">(</text>
<text transform="translate(1165.8,1002.1) rotate(-90)" font-size="24" text-anchor="start" fill="#000">cm</text>
<text transform="translate(1157.1,966.2) rotate(-90)" font-size="16.8" text-anchor="start" fill="#000">2</text>
<text transform="translate(1165.8,949.8) rotate(-90)" font-size="24" text-anchor="start" fill="#000">s</text>
<text transform="translate(1157.1,936.2) rotate(-90)" font-size="16.8" text-anchor="start" fill="#000">&#8722;1</text>
<text transform="translate(1165.8,908.6) rotate(-90)" font-size="24" text-anchor="start" fill="#000">sr</text>
<text transform="translate(1157.1,887.6) rotate(-90)" font-size="16.8" text-anchor="start" fill="#000">&#8722;1</text>
<text transform="translate(1165.8,854.6) rotate(-90)" font-size="24" text-anchor="start" fill="#000">)</text>
</svg>
</body></html>
